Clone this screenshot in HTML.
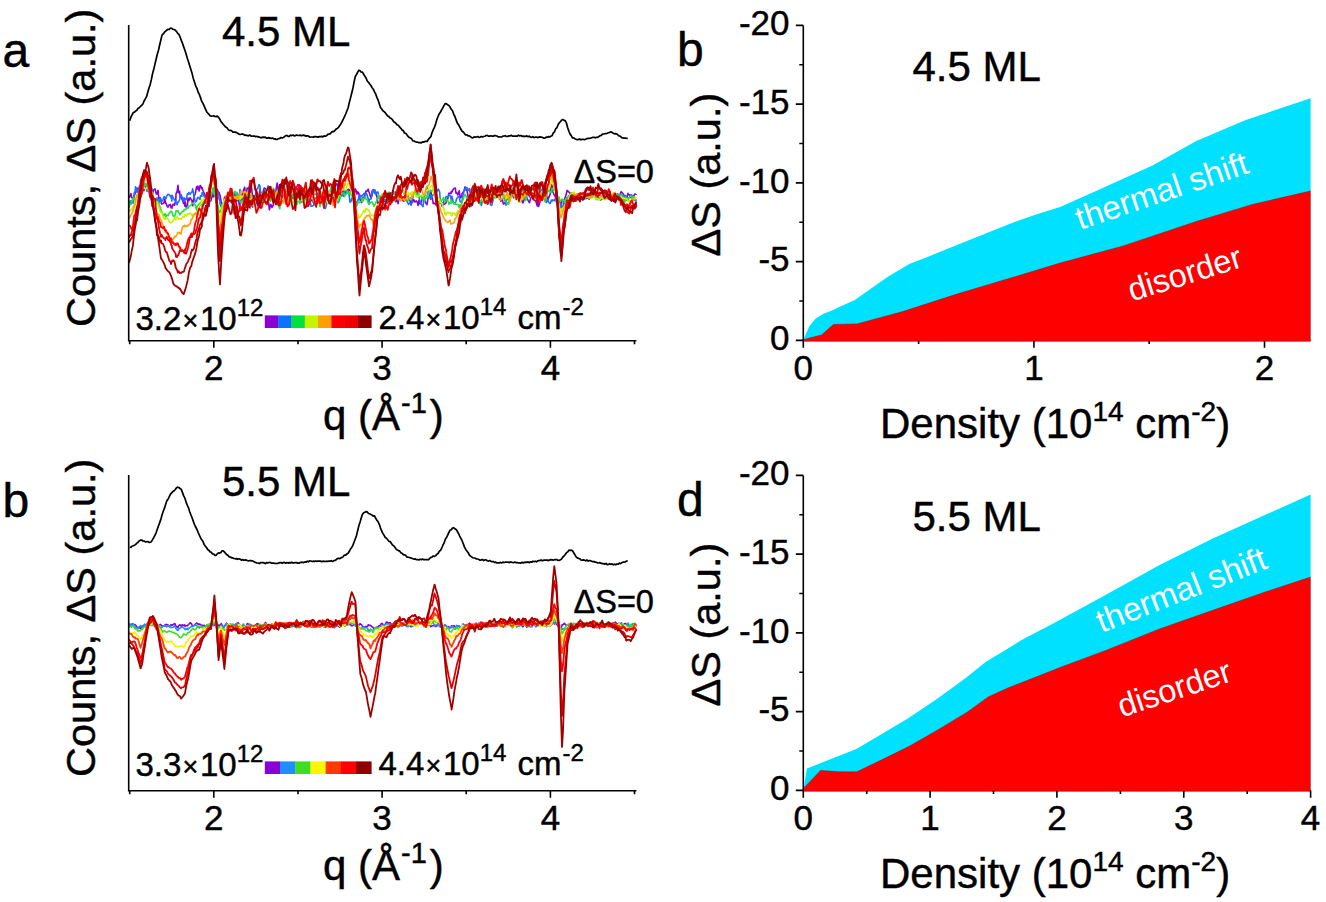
<!DOCTYPE html>
<html><head><meta charset="utf-8"><style>
html,body{margin:0;padding:0;background:#fff;}
svg{display:block;}
text{font-family:"Liberation Sans", sans-serif;fill:#000;stroke:#000;stroke-width:0.45px;}
</style></head><body>
<svg width="1326" height="902" viewBox="0 0 1326 902">
<rect width="1326" height="902" fill="#fff"/>
<path d="M129.0,197.8L130.3,195.5L131.0,193.6L131.6,197.5L132.9,198.1L133.0,199.1L134.2,195.6L135.0,193.6L135.5,192.8L136.8,188.0L137.0,191.4L138.1,188.2L139.4,193.6L140.0,191.6L140.7,193.0L141.0,194.0L142.0,192.1L143.3,188.6L144.0,190.7L144.6,185.9L145.9,187.7L147.0,185.1L147.2,187.3L148.5,187.7L149.8,196.5L150.0,196.8L151.1,199.0L152.0,197.2L152.4,194.6L153.0,192.0L153.7,190.0L155.0,188.9L156.3,194.0L157.0,194.0L157.6,191.6L158.0,190.3L158.9,198.7L160.2,197.5L161.0,201.3L161.5,204.0L162.8,203.8L164.1,202.4L165.0,198.7L165.4,203.1L166.0,203.1L166.7,205.3L168.0,207.2L169.3,204.7L170.6,204.6L171.0,207.7L171.9,208.1L172.0,207.1L173.2,204.0L174.5,205.3L175.8,200.3L176.0,193.8L177.1,191.4L178.0,185.2L178.4,192.6L179.7,191.2L180.0,197.0L181.0,197.1L182.3,199.8L183.6,203.6L184.0,197.8L184.9,206.2L185.0,201.5L186.2,207.4L187.5,204.6L188.0,198.1L188.8,200.8L190.1,197.7L191.4,199.8L192.0,200.7L192.7,205.8L194.0,196.9L195.3,193.5L196.6,186.9L197.0,189.2L197.9,186.1L199.2,191.0L200.0,185.8L200.5,185.6L201.8,188.7L202.0,187.5L203.1,191.0L204.4,193.6L205.7,196.8L206.0,197.2L207.0,200.5L208.0,202.9L208.3,205.4L209.0,206.4L209.6,200.7L210.9,200.9L211.5,198.0L212.2,194.1L213.0,197.0L213.5,196.8L214.0,196.1L214.8,189.0L216.0,187.4L216.1,189.0L217.4,189.4L218.0,191.6L218.7,192.4L219.0,192.3L220.0,195.4L220.0,195.5L221.3,202.5L222.0,205.1L222.6,205.4L223.9,203.1L224.5,197.4L225.2,196.8L226.0,196.0L226.5,196.6L227.8,203.0L228.0,197.5L229.1,199.3L230.4,201.5L231.7,202.6L233.0,201.6L233.0,196.7L234.3,193.2L235.6,196.9L236.9,200.9L237.0,198.5L238.2,197.8L239.5,206.1L240.0,204.5L240.8,199.4L241.0,202.5L242.1,199.5L243.4,190.2L244.7,187.2L245.0,190.6L246.0,192.6L247.3,188.0L248.6,189.2L249.9,183.4L250.0,186.8L251.2,184.7L252.5,196.3L253.8,197.0L255.1,198.2L256.4,201.8L257.7,205.8L259.0,199.1L260.0,188.8L260.3,194.3L261.6,193.3L262.9,192.7L264.2,188.0L265.5,188.7L266.8,196.6L268.1,198.5L269.4,209.8L270.7,204.3L272.0,207.4L273.3,205.0L274.6,196.5L275.9,190.4L277.2,183.0L278.5,192.2L279.8,186.1L280.0,190.3L281.1,191.6L282.4,197.3L283.7,193.1L285.0,193.8L286.3,198.2L287.6,189.8L288.9,194.5L290.2,196.4L291.5,194.1L292.8,198.5L294.1,192.8L295.4,187.3L296.7,187.2L298.0,184.5L299.3,185.6L300.0,188.1L300.6,190.3L301.9,193.0L303.2,195.1L304.5,195.5L305.8,198.8L307.1,206.5L308.4,205.2L309.7,202.4L311.0,200.7L312.3,199.6L313.6,203.0L314.9,204.4L316.2,197.7L317.5,203.6L318.8,199.0L320.0,189.8L320.1,190.9L321.4,197.4L322.7,194.8L324.0,200.3L325.3,196.0L326.6,185.2L327.9,192.4L329.2,198.6L330.5,198.8L331.8,201.4L333.1,190.0L334.4,186.7L335.0,186.6L335.7,184.8L337.0,183.7L338.3,190.7L339.6,192.9L340.0,194.8L340.9,188.8L342.2,194.6L343.5,190.2L344.0,196.0L344.8,194.3L345.0,193.2L346.1,192.2L347.4,192.4L348.0,189.4L348.7,189.2L350.0,190.6L351.0,191.5L351.3,193.0L352.6,194.0L353.9,192.7L354.0,194.3L355.0,191.5L355.2,188.9L356.5,191.3L357.0,194.1L357.8,191.9L359.0,193.8L359.1,195.8L359.5,198.1L360.4,200.3L361.7,202.6L362.0,198.4L363.0,197.8L364.0,198.4L364.3,196.2L365.6,192.2L366.0,191.1L366.9,191.4L368.2,189.1L369.0,192.0L369.5,193.2L370.8,197.6L372.0,195.5L372.1,191.2L373.4,189.6L374.0,191.7L374.7,190.3L375.0,190.6L376.0,193.9L377.3,198.2L378.0,205.6L378.6,202.6L379.9,202.2L381.2,196.1L382.0,196.9L382.5,201.4L383.0,200.2L383.8,201.5L385.1,201.2L386.4,200.7L387.7,202.9L389.0,197.7L390.0,197.9L390.3,197.9L391.6,197.0L392.9,196.6L394.2,200.6L395.5,199.0L396.0,201.8L396.8,197.2L398.1,203.7L399.4,196.0L400.0,199.2L400.7,195.2L402.0,197.4L403.3,201.3L404.6,200.9L405.0,198.7L405.9,200.0L407.2,194.9L408.5,197.6L409.8,200.2L411.1,205.1L412.0,200.0L412.4,202.6L413.7,199.7L415.0,202.0L416.3,200.9L417.6,202.8L418.0,205.5L418.9,200.4L420.2,204.1L421.5,201.4L422.8,195.6L423.0,196.3L424.1,198.2L425.0,197.8L425.4,202.4L426.7,204.3L427.0,204.6L428.0,198.7L428.0,198.7L429.3,196.0L430.5,190.5L430.6,190.3L431.0,192.3L431.9,196.9L433.0,201.6L433.2,203.6L434.5,203.2L435.0,203.8L435.8,204.9L436.0,203.0L437.1,201.8L438.4,201.8L439.7,203.0L440.0,201.7L441.0,202.5L442.3,206.4L443.6,203.5L444.0,204.6L444.9,203.9L446.0,203.0L446.2,199.5L447.5,199.9L448.5,195.2L448.8,193.2L450.1,193.3L451.0,193.5L451.4,191.3L452.0,192.0L452.7,190.2L454.0,188.4L455.3,188.0L456.0,193.2L456.6,192.6L457.9,195.0L459.2,190.8L460.0,196.1L460.5,197.8L461.8,196.3L462.0,193.8L463.1,192.3L464.4,190.2L465.0,186.9L465.7,189.5L467.0,190.2L468.3,198.5L469.6,204.2L470.0,201.0L470.9,206.3L472.0,197.2L472.2,197.4L473.5,185.8L474.8,188.7L476.0,193.9L476.1,192.6L477.4,193.7L478.7,194.4L480.0,189.4L480.0,192.8L481.3,187.4L482.6,192.7L483.9,201.0L485.2,202.7L486.5,197.0L487.8,199.2L489.1,190.9L490.4,190.8L491.7,191.1L493.0,192.5L494.3,194.1L495.6,189.6L496.9,189.2L498.2,194.8L499.5,199.3L500.0,195.8L500.8,201.2L502.1,199.0L503.4,204.0L504.7,203.4L506.0,200.6L507.3,199.2L508.6,196.5L509.9,192.9L510.0,192.3L511.2,192.2L512.5,195.1L513.8,197.8L515.1,195.4L516.4,194.6L517.7,196.0L519.0,196.9L520.0,197.6L520.3,201.7L521.6,199.7L522.9,202.9L524.2,199.4L525.5,194.9L526.8,197.8L528.1,200.4L529.4,202.7L530.7,198.5L532.0,195.7L533.3,199.3L534.6,200.3L535.9,201.4L537.2,205.9L538.0,201.2L538.5,206.5L539.8,202.5L541.1,195.2L542.4,192.9L543.7,191.5L545.0,190.7L545.0,191.7L546.3,193.6L547.6,201.2L548.9,196.4L549.0,197.3L550.2,194.0L551.5,184.6L552.0,185.5L552.8,191.7L554.1,194.7L555.0,196.3L555.4,195.9L556.0,200.0L556.7,202.6L557.5,201.3L558.0,203.9L559.0,206.1L559.3,200.9L559.5,201.2L560.6,201.3L561.0,206.1L561.4,203.5L561.9,200.4L563.2,200.3L563.5,200.2L564.0,203.2L564.5,199.3L565.8,195.7L566.5,192.9L567.1,190.4L568.0,191.5L568.4,191.4L569.7,193.0L571.0,196.3L572.0,196.6L572.3,196.4L573.6,199.4L574.9,199.0L575.0,198.0L576.2,199.3L577.5,198.7L578.8,198.6L580.0,199.0L580.1,198.2L581.4,199.3L582.7,196.8L584.0,195.0L585.3,195.5L586.6,196.0L587.9,198.1L589.2,199.2L590.5,196.8L591.8,192.4L593.1,192.6L594.4,194.6L595.7,198.6L597.0,197.8L598.0,199.2L598.3,198.7L599.6,199.4L600.9,199.9L602.2,197.1L603.5,197.6L604.8,196.6L606.1,198.1L607.4,195.4L608.7,195.9L610.0,196.2L610.0,194.6L611.3,197.3L612.6,195.5L613.9,197.1L615.0,196.6L615.2,196.9L616.5,198.3L617.8,196.6L619.1,197.0L620.4,193.4L621.0,191.8L621.7,192.2L623.0,193.6L624.3,197.9L625.6,199.5L626.9,197.2L628.0,193.3L628.2,194.7L629.5,194.8L630.8,197.5L632.0,198.0L632.1,198.4L633.4,196.6L634.7,194.0L636.0,194.3L636.0,194.0" fill="none" stroke="#8B00D4" stroke-width="1.6" stroke-linejoin="round"/>
<path d="M129.0,207.5L130.3,200.9L131.0,203.3L131.6,200.9L132.9,200.9L133.0,203.5L134.2,192.9L135.0,192.2L135.5,186.8L136.8,190.0L137.0,192.3L138.1,191.5L139.4,186.1L140.0,186.0L140.7,187.4L141.0,186.1L142.0,187.7L143.3,183.8L144.0,188.3L144.6,183.9L145.9,184.2L147.0,191.5L147.2,187.4L148.5,189.4L149.8,189.0L150.0,187.6L151.1,192.4L152.0,188.5L152.4,191.8L153.0,198.4L153.7,200.2L155.0,201.2L156.3,201.4L157.0,197.7L157.6,201.1L158.0,199.7L158.9,203.0L160.2,197.9L161.0,199.1L161.5,201.6L162.8,200.2L164.1,196.4L165.0,197.9L165.4,198.7L166.0,198.5L166.7,195.9L168.0,194.2L169.3,194.8L170.6,196.8L171.0,195.8L171.9,201.0L172.0,195.2L173.2,197.5L174.5,200.2L175.8,200.3L176.0,202.3L177.1,204.7L178.0,201.7L178.4,202.2L179.7,199.5L180.0,196.1L181.0,194.4L182.3,197.6L183.6,200.6L184.0,201.6L184.9,201.3L185.0,198.9L186.2,199.6L187.5,193.7L188.0,194.6L188.8,192.5L190.1,194.3L191.4,192.2L192.0,192.1L192.7,188.8L194.0,195.8L195.3,202.1L196.6,200.9L197.0,198.8L197.9,197.3L199.2,198.4L200.0,199.5L200.5,195.7L201.8,196.4L202.0,192.8L203.1,193.0L204.4,197.2L205.7,203.0L206.0,201.7L207.0,198.0L208.0,200.0L208.3,202.7L209.0,200.6L209.6,200.4L210.9,193.1L211.5,193.8L212.2,193.9L213.0,192.2L213.5,188.9L214.0,190.4L214.8,186.1L216.0,184.0L216.1,189.4L217.4,194.6L218.0,193.0L218.7,194.7L219.0,198.6L220.0,200.8L220.0,203.8L221.3,207.0L222.0,205.3L222.6,203.0L223.9,206.5L224.5,201.8L225.2,201.8L226.0,204.8L226.5,200.9L227.8,196.2L228.0,194.1L229.1,197.3L230.4,197.4L231.7,197.6L233.0,196.3L233.0,195.1L234.3,193.6L235.6,194.6L236.9,198.1L237.0,192.7L238.2,197.3L239.5,193.7L240.0,189.5L240.8,194.3L241.0,194.6L242.1,196.7L243.4,198.0L244.7,198.9L245.0,197.2L246.0,199.0L247.3,193.9L248.6,189.7L249.9,196.8L250.0,195.6L251.2,204.8L252.5,207.2L253.8,206.2L255.1,196.8L256.4,189.2L257.7,188.8L259.0,184.6L260.0,185.9L260.3,190.9L261.6,193.9L262.9,200.3L264.2,191.5L265.5,189.7L266.8,190.7L268.1,185.7L269.4,189.1L270.7,193.3L272.0,194.9L273.3,200.2L274.6,200.7L275.9,195.7L277.2,193.4L278.5,194.7L279.8,184.7L280.0,190.0L281.1,187.5L282.4,190.4L283.7,194.0L285.0,199.6L286.3,195.3L287.6,195.3L288.9,194.3L290.2,198.8L291.5,193.8L292.8,198.2L294.1,197.4L295.4,194.9L296.7,193.3L298.0,188.9L299.3,187.6L300.0,191.1L300.6,196.8L301.9,202.3L303.2,198.0L304.5,196.8L305.8,198.4L307.1,198.4L308.4,202.0L309.7,198.3L311.0,206.3L312.3,206.2L313.6,205.3L314.9,203.6L316.2,202.8L317.5,193.8L318.8,192.3L320.0,199.0L320.1,198.7L321.4,197.2L322.7,202.1L324.0,208.3L325.3,208.5L326.6,204.4L327.9,196.8L329.2,196.6L330.5,192.2L331.8,192.6L333.1,193.7L334.4,202.4L335.0,200.2L335.7,195.9L337.0,199.6L338.3,202.7L339.6,199.4L340.0,196.1L340.9,196.3L342.2,194.1L343.5,196.3L344.0,191.4L344.8,193.2L345.0,189.8L346.1,190.7L347.4,190.3L348.0,193.4L348.7,191.9L350.0,202.2L351.0,201.6L351.3,199.8L352.6,197.0L353.9,197.2L354.0,195.6L355.0,199.9L355.2,201.1L356.5,206.0L357.0,202.0L357.8,200.5L359.0,196.8L359.1,198.7L359.5,199.8L360.4,195.4L361.7,196.7L362.0,195.9L363.0,194.7L364.0,193.6L364.3,193.3L365.6,194.8L366.0,193.3L366.9,194.3L368.2,198.8L369.0,204.5L369.5,199.2L370.8,199.3L372.0,195.5L372.1,191.5L373.4,190.6L374.0,192.7L374.7,193.3L375.0,190.1L376.0,193.7L377.3,192.0L378.0,192.1L378.6,196.6L379.9,197.7L381.2,202.0L382.0,199.6L382.5,200.3L383.0,201.8L383.8,199.7L385.1,199.4L386.4,201.5L387.7,203.7L389.0,198.7L390.0,197.0L390.3,193.4L391.6,193.8L392.9,191.0L394.2,194.0L395.5,191.9L396.0,192.1L396.8,194.5L398.1,191.2L399.4,195.2L400.0,194.6L400.7,190.9L402.0,191.8L403.3,191.7L404.6,193.1L405.0,199.0L405.9,199.2L407.2,201.7L408.5,204.5L409.8,203.0L411.1,204.1L412.0,202.0L412.4,199.4L413.7,193.6L415.0,192.8L416.3,192.5L417.6,191.5L418.0,194.5L418.9,197.0L420.2,201.6L421.5,204.8L422.8,206.3L423.0,206.7L424.1,197.9L425.0,194.3L425.4,194.9L426.7,186.8L427.0,186.3L428.0,191.6L428.0,196.5L429.3,196.5L430.5,199.2L430.6,194.9L431.0,199.2L431.9,195.7L433.0,195.2L433.2,194.6L434.5,193.6L435.0,193.6L435.8,194.6L436.0,190.8L437.1,191.2L438.4,189.0L439.7,192.3L440.0,197.3L441.0,201.8L442.3,203.0L443.6,203.7L444.0,200.2L444.9,200.5L446.0,196.5L446.2,197.1L447.5,196.7L448.5,196.0L448.8,194.9L450.1,195.3L451.0,198.4L451.4,200.9L452.0,196.3L452.7,200.1L454.0,203.7L455.3,203.0L456.0,201.3L456.6,198.7L457.9,197.1L459.2,196.6L460.0,201.1L460.5,201.9L461.8,202.6L462.0,200.6L463.1,195.3L464.4,189.2L465.0,190.0L465.7,187.9L467.0,187.6L468.3,190.4L469.6,188.6L470.0,192.8L470.9,196.1L472.0,196.3L472.2,192.7L473.5,191.0L474.8,188.6L476.0,190.4L476.1,192.5L477.4,196.5L478.7,200.6L480.0,200.3L480.0,200.3L481.3,205.5L482.6,199.9L483.9,202.3L485.2,196.2L486.5,192.9L487.8,198.4L489.1,195.9L490.4,204.7L491.7,205.4L493.0,200.4L494.3,196.2L495.6,197.7L496.9,189.5L498.2,191.5L499.5,187.7L500.0,188.0L500.8,193.2L502.1,191.4L503.4,191.1L504.7,197.5L506.0,205.1L507.3,202.9L508.6,203.3L509.9,197.0L510.0,199.8L511.2,191.6L512.5,190.8L513.8,192.4L515.1,194.1L516.4,198.8L517.7,196.9L519.0,190.4L520.0,190.1L520.3,192.6L521.6,197.9L522.9,196.5L524.2,195.8L525.5,195.2L526.8,194.9L528.1,192.0L529.4,197.0L530.7,190.1L532.0,195.2L533.3,194.6L534.6,196.8L535.9,193.5L537.2,196.1L538.0,198.0L538.5,197.2L539.8,192.5L541.1,190.3L542.4,189.1L543.7,189.8L545.0,200.6L545.0,196.2L546.3,202.7L547.6,199.7L548.9,202.5L549.0,202.7L550.2,203.5L551.5,200.0L552.0,201.2L552.8,199.8L554.1,200.7L555.0,199.5L555.4,198.0L556.0,199.6L556.7,201.2L557.5,204.6L558.0,205.2L559.0,204.7L559.3,206.0L559.5,202.5L560.6,207.5L561.0,203.8L561.4,208.2L561.9,206.7L563.2,206.1L563.5,202.9L564.0,203.9L564.5,202.1L565.8,200.8L566.5,197.7L567.1,200.7L568.0,198.1L568.4,195.8L569.7,196.7L571.0,196.5L572.0,197.4L572.3,196.1L573.6,194.2L574.9,195.2L575.0,196.2L576.2,197.5L577.5,196.2L578.8,199.6L580.0,200.6L580.1,201.1L581.4,198.2L582.7,196.4L584.0,196.1L585.3,198.6L586.6,198.4L587.9,196.3L589.2,195.1L590.5,193.0L591.8,191.5L593.1,191.7L594.4,193.2L595.7,194.2L597.0,199.6L598.0,198.4L598.3,197.4L599.6,198.8L600.9,198.9L602.2,199.0L603.5,197.6L604.8,193.8L606.1,192.7L607.4,194.8L608.7,197.8L610.0,199.2L610.0,199.4L611.3,200.0L612.6,197.9L613.9,196.2L615.0,193.8L615.2,194.9L616.5,195.5L617.8,193.8L619.1,196.1L620.4,198.9L621.0,199.7L621.7,199.5L623.0,196.8L624.3,195.1L625.6,195.8L626.9,197.9L628.0,200.4L628.2,198.8L629.5,197.3L630.8,194.5L632.0,196.1L632.1,195.3L633.4,199.1L634.7,200.5L636.0,199.7L636.0,201.6" fill="none" stroke="#1F6FFF" stroke-width="1.6" stroke-linejoin="round"/>
<path d="M129.0,206.0L130.3,204.1L131.0,204.3L131.6,200.4L132.9,200.6L133.0,198.1L134.2,198.7L135.0,199.9L135.5,201.3L136.8,196.1L137.0,199.4L138.1,195.6L139.4,193.2L140.0,196.2L140.7,193.5L141.0,196.5L142.0,190.0L143.3,187.7L144.0,186.6L144.6,185.4L145.9,183.3L147.0,185.8L147.2,184.9L148.5,188.1L149.8,191.2L150.0,191.1L151.1,194.6L152.0,197.6L152.4,197.3L153.0,197.3L153.7,200.2L155.0,201.3L156.3,201.9L157.0,203.8L157.6,202.5L158.0,201.3L158.9,204.6L160.2,207.4L161.0,210.0L161.5,211.2L162.8,214.2L164.1,215.2L165.0,213.6L165.4,216.7L166.0,217.4L166.7,215.1L168.0,215.7L169.3,213.0L170.6,211.6L171.0,211.2L171.9,211.8L172.0,212.5L173.2,215.6L174.5,216.8L175.8,212.5L176.0,210.8L177.1,211.1L178.0,210.6L178.4,212.4L179.7,213.5L180.0,214.9L181.0,212.9L182.3,211.4L183.6,211.4L184.0,210.0L184.9,209.3L185.0,210.0L186.2,208.9L187.5,207.0L188.0,208.2L188.8,206.1L190.1,206.0L191.4,204.9L192.0,203.8L192.7,203.0L194.0,203.4L195.3,205.3L196.6,210.3L197.0,206.8L197.9,205.4L199.2,203.9L200.0,203.5L200.5,202.4L201.8,206.6L202.0,204.9L203.1,203.0L204.4,201.0L205.7,200.9L206.0,200.5L207.0,202.0L208.0,202.8L208.3,204.5L209.0,199.1L209.6,200.5L210.9,195.9L211.5,194.1L212.2,191.2L213.0,187.9L213.5,190.6L214.0,190.7L214.8,194.9L216.0,199.5L216.1,202.4L217.4,204.0L218.0,205.6L218.7,208.9L219.0,212.7L220.0,212.1L220.0,211.9L221.3,209.6L222.0,204.6L222.6,206.2L223.9,205.9L224.5,205.0L225.2,206.7L226.0,200.4L226.5,200.0L227.8,192.4L228.0,193.7L229.1,195.4L230.4,199.3L231.7,197.4L233.0,195.4L233.0,194.4L234.3,191.9L235.6,191.6L236.9,194.7L237.0,194.5L238.2,197.7L239.5,197.4L240.0,201.8L240.8,202.7L241.0,202.8L242.1,200.5L243.4,201.7L244.7,202.5L245.0,199.4L246.0,194.7L247.3,195.6L248.6,197.9L249.9,199.3L250.0,195.1L251.2,201.5L252.5,200.9L253.8,197.4L255.1,197.3L256.4,196.7L257.7,195.3L259.0,203.0L260.0,203.1L260.3,204.1L261.6,199.3L262.9,193.6L264.2,192.3L265.5,191.2L266.8,189.7L268.1,189.6L269.4,199.5L270.7,201.1L272.0,195.7L273.3,188.0L274.6,190.9L275.9,200.8L277.2,202.4L278.5,205.3L279.8,208.6L280.0,202.9L281.1,200.5L282.4,189.3L283.7,190.4L285.0,188.8L286.3,194.5L287.6,193.8L288.9,198.5L290.2,195.1L291.5,195.0L292.8,196.0L294.1,198.6L295.4,203.6L296.7,204.7L298.0,201.2L299.3,201.4L300.0,203.4L300.6,199.7L301.9,199.0L303.2,198.5L304.5,200.1L305.8,194.9L307.1,192.6L308.4,191.6L309.7,192.4L311.0,188.0L312.3,193.5L313.6,193.0L314.9,194.2L316.2,194.3L317.5,197.8L318.8,198.4L320.0,206.7L320.1,205.2L321.4,202.4L322.7,202.3L324.0,203.6L325.3,201.6L326.6,198.8L327.9,198.6L329.2,195.8L330.5,189.1L331.8,185.7L333.1,184.6L334.4,188.1L335.0,187.6L335.7,191.7L337.0,194.7L338.3,201.7L339.6,195.5L340.0,198.3L340.9,193.8L342.2,192.9L343.5,193.9L344.0,193.2L344.8,196.6L345.0,194.8L346.1,194.3L347.4,191.6L348.0,192.3L348.7,193.1L350.0,192.4L351.0,193.2L351.3,195.9L352.6,194.1L353.9,197.3L354.0,196.3L355.0,201.3L355.2,203.0L356.5,203.8L357.0,205.0L357.8,202.2L359.0,202.7L359.1,202.5L359.5,202.2L360.4,201.8L361.7,201.3L362.0,198.3L363.0,201.0L364.0,198.4L364.3,197.6L365.6,196.8L366.0,199.1L366.9,199.3L368.2,203.1L369.0,203.1L369.5,203.6L370.8,202.4L372.0,201.9L372.1,202.3L373.4,204.7L374.0,206.2L374.7,205.2L375.0,204.3L376.0,202.7L377.3,198.1L378.0,198.8L378.6,194.9L379.9,197.5L381.2,197.5L382.0,194.3L382.5,194.5L383.0,195.9L383.8,196.8L385.1,197.4L386.4,195.1L387.7,194.9L389.0,192.1L390.0,194.6L390.3,194.5L391.6,195.9L392.9,193.8L394.2,192.0L395.5,194.2L396.0,195.9L396.8,194.2L398.1,199.8L399.4,197.2L400.0,194.5L400.7,193.6L402.0,191.3L403.3,190.1L404.6,195.2L405.0,197.3L405.9,196.4L407.2,200.5L408.5,200.6L409.8,197.7L411.1,198.6L412.0,194.9L412.4,194.0L413.7,193.6L415.0,192.6L416.3,192.4L417.6,196.7L418.0,197.0L418.9,193.7L420.2,196.4L421.5,196.8L422.8,200.1L423.0,195.9L424.1,196.8L425.0,200.9L425.4,198.9L426.7,197.2L427.0,195.4L428.0,197.1L428.0,196.6L429.3,192.3L430.5,191.0L430.6,190.4L431.0,191.5L431.9,190.6L433.0,190.7L433.2,189.2L434.5,191.6L435.0,193.9L435.8,199.5L436.0,198.9L437.1,202.7L438.4,203.7L439.7,203.4L440.0,201.5L441.0,200.9L442.3,199.9L443.6,197.6L444.0,199.5L444.9,201.4L446.0,200.3L446.2,199.3L447.5,200.0L448.5,202.7L448.8,204.4L450.1,202.2L451.0,203.5L451.4,200.4L452.0,202.1L452.7,202.3L454.0,204.0L455.3,203.5L456.0,204.6L456.6,204.5L457.9,204.2L459.2,207.7L460.0,204.8L460.5,207.6L461.8,203.3L462.0,202.0L463.1,199.5L464.4,194.7L465.0,194.6L465.7,195.3L467.0,199.6L468.3,201.4L469.6,201.1L470.0,199.4L470.9,200.9L472.0,204.5L472.2,204.9L473.5,198.6L474.8,195.4L476.0,199.0L476.1,195.4L477.4,195.4L478.7,202.0L480.0,203.9L480.0,200.6L481.3,201.1L482.6,197.2L483.9,188.3L485.2,198.0L486.5,203.6L487.8,200.5L489.1,197.5L490.4,193.0L491.7,195.1L493.0,198.5L494.3,196.4L495.6,194.3L496.9,193.1L498.2,193.5L499.5,186.4L500.0,186.7L500.8,191.4L502.1,194.1L503.4,197.9L504.7,200.1L506.0,201.2L507.3,204.1L508.6,203.9L509.9,195.8L510.0,195.8L511.2,193.3L512.5,187.6L513.8,196.2L515.1,196.9L516.4,198.5L517.7,196.4L519.0,194.2L520.0,192.7L520.3,191.1L521.6,193.3L522.9,188.6L524.2,193.8L525.5,200.7L526.8,198.1L528.1,190.0L529.4,188.6L530.7,188.3L532.0,187.9L533.3,189.5L534.6,192.0L535.9,195.6L537.2,192.4L538.0,187.3L538.5,190.7L539.8,193.0L541.1,200.1L542.4,199.1L543.7,197.6L545.0,201.4L545.0,201.7L546.3,197.3L547.6,191.6L548.9,189.9L549.0,190.9L550.2,191.9L551.5,192.3L552.0,188.5L552.8,188.7L554.1,190.2L555.0,188.3L555.4,189.4L556.0,191.1L556.7,194.1L557.5,196.9L558.0,197.0L559.0,198.0L559.3,197.3L559.5,200.6L560.6,201.5L561.0,200.4L561.4,199.8L561.9,199.1L563.2,200.8L563.5,200.7L564.0,200.1L564.5,202.1L565.8,198.9L566.5,201.0L567.1,197.7L568.0,199.4L568.4,199.0L569.7,194.7L571.0,192.5L572.0,193.6L572.3,196.4L573.6,199.8L574.9,198.8L575.0,198.7L576.2,195.4L577.5,194.1L578.8,194.5L580.0,197.3L580.1,196.4L581.4,198.1L582.7,199.0L584.0,196.3L585.3,195.3L586.6,194.2L587.9,196.9L589.2,197.6L590.5,195.9L591.8,197.6L593.1,196.5L594.4,194.9L595.7,195.0L597.0,198.0L598.0,196.8L598.3,198.0L599.6,199.2L600.9,198.4L602.2,196.4L603.5,197.1L604.8,197.2L606.1,195.9L607.4,195.7L608.7,194.1L610.0,195.3L610.0,193.9L611.3,197.1L612.6,195.2L613.9,195.0L615.0,193.7L615.2,194.4L616.5,194.0L617.8,196.3L619.1,195.0L620.4,195.0L621.0,196.0L621.7,194.4L623.0,197.0L624.3,202.7L625.6,199.9L626.9,200.2L628.0,199.6L628.2,199.4L629.5,197.6L630.8,196.0L632.0,197.1L632.1,197.8L633.4,196.6L634.7,197.2L636.0,197.5L636.0,197.9" fill="none" stroke="#20E040" stroke-width="1.6" stroke-linejoin="round"/>
<path d="M129.0,212.0L130.3,209.9L131.0,210.8L131.6,209.3L132.9,208.0L133.0,206.4L134.2,206.7L135.0,205.5L135.5,204.4L136.8,198.1L137.0,200.4L138.1,199.0L139.4,198.9L140.0,196.1L140.7,192.4L141.0,189.6L142.0,185.3L143.3,186.8L144.0,187.5L144.6,188.3L145.9,188.8L147.0,187.3L147.2,186.5L148.5,189.5L149.8,190.3L150.0,190.0L151.1,191.4L152.0,193.9L152.4,192.2L153.0,195.9L153.7,198.0L155.0,199.0L156.3,202.7L157.0,202.2L157.6,203.5L158.0,204.5L158.9,207.5L160.2,211.5L161.0,212.6L161.5,212.4L162.8,215.7L164.1,218.9L165.0,217.7L165.4,219.4L166.0,218.0L166.7,217.5L168.0,219.0L169.3,222.0L170.6,223.0L171.0,222.5L171.9,222.5L172.0,222.0L173.2,220.6L174.5,218.1L175.8,219.8L176.0,217.7L177.1,217.0L178.0,217.6L178.4,218.9L179.7,218.6L180.0,219.0L181.0,219.3L182.3,217.4L183.6,216.3L184.0,217.4L184.9,215.7L185.0,214.5L186.2,215.8L187.5,213.9L188.0,213.8L188.8,214.3L190.1,212.9L191.4,214.2L192.0,216.0L192.7,214.4L194.0,214.5L195.3,213.9L196.6,213.0L197.0,211.5L197.9,209.3L199.2,209.4L200.0,206.0L200.5,204.9L201.8,199.9L202.0,200.7L203.1,200.2L204.4,198.2L205.7,199.8L206.0,197.7L207.0,200.2L208.0,196.8L208.3,198.9L209.0,196.0L209.6,196.9L210.9,187.2L211.5,185.3L212.2,183.3L213.0,180.0L213.5,182.5L214.0,183.6L214.8,185.6L216.0,191.5L216.1,191.0L217.4,206.6L218.0,213.4L218.7,220.4L219.0,222.2L220.0,217.3L220.0,216.3L221.3,213.3L222.0,209.7L222.6,206.3L223.9,201.2L224.5,199.8L225.2,199.0L226.0,197.7L226.5,194.0L227.8,193.3L228.0,193.0L229.1,193.5L230.4,198.2L231.7,200.3L233.0,200.2L233.0,199.1L234.3,198.4L235.6,197.6L236.9,198.1L237.0,196.7L238.2,196.4L239.5,198.3L240.0,194.8L240.8,199.0L241.0,196.0L242.1,197.3L243.4,195.2L244.7,196.4L245.0,194.1L246.0,200.2L247.3,202.2L248.6,201.4L249.9,202.5L250.0,199.2L251.2,200.3L252.5,202.4L253.8,206.3L255.1,201.2L256.4,197.9L257.7,197.8L259.0,197.5L260.0,194.9L260.3,199.2L261.6,197.8L262.9,197.6L264.2,202.2L265.5,202.9L266.8,204.8L268.1,193.4L269.4,189.1L270.7,194.6L272.0,198.0L273.3,200.5L274.6,199.3L275.9,193.9L277.2,192.6L278.5,192.3L279.8,192.7L280.0,195.4L281.1,195.0L282.4,193.6L283.7,190.1L285.0,196.9L286.3,194.7L287.6,198.6L288.9,204.7L290.2,200.2L291.5,198.8L292.8,202.7L294.1,201.9L295.4,204.0L296.7,200.0L298.0,193.3L299.3,197.7L300.0,195.0L300.6,198.8L301.9,200.8L303.2,200.2L304.5,203.5L305.8,201.4L307.1,198.4L308.4,195.0L309.7,193.2L311.0,196.7L312.3,197.0L313.6,200.9L314.9,202.8L316.2,204.4L317.5,198.8L318.8,199.0L320.0,198.2L320.1,198.3L321.4,193.5L322.7,190.9L324.0,188.4L325.3,193.9L326.6,200.0L327.9,203.5L329.2,196.7L330.5,192.7L331.8,193.0L333.1,192.0L334.4,197.0L335.0,199.0L335.7,198.9L337.0,200.3L338.3,196.2L339.6,194.2L340.0,191.8L340.9,191.5L342.2,189.8L343.5,189.8L344.0,189.2L344.8,189.9L345.0,189.6L346.1,190.0L347.4,183.5L348.0,183.5L348.7,183.4L350.0,187.3L351.0,188.0L351.3,191.6L352.6,195.4L353.9,201.6L354.0,201.7L355.0,206.6L355.2,209.1L356.5,210.6L357.0,212.8L357.8,214.0L359.0,217.2L359.1,218.0L359.5,217.2L360.4,217.0L361.7,214.0L362.0,214.1L363.0,212.6L364.0,210.2L364.3,212.5L365.6,210.9L366.0,208.4L366.9,208.9L368.2,209.7L369.0,210.4L369.5,212.1L370.8,214.4L372.0,215.4L372.1,215.4L373.4,216.1L374.0,214.9L374.7,213.5L375.0,212.0L376.0,207.3L377.3,205.9L378.0,204.2L378.6,204.0L379.9,203.4L381.2,199.3L382.0,194.8L382.5,194.4L383.0,196.8L383.8,194.6L385.1,195.1L386.4,196.2L387.7,198.6L389.0,203.2L390.0,195.8L390.3,194.9L391.6,194.1L392.9,198.1L394.2,201.0L395.5,196.7L396.0,195.8L396.8,197.9L398.1,194.6L399.4,194.7L400.0,192.6L400.7,193.2L402.0,190.6L403.3,191.8L404.6,192.8L405.0,194.4L405.9,194.4L407.2,195.4L408.5,192.6L409.8,195.5L411.1,192.5L412.0,195.5L412.4,191.7L413.7,192.8L415.0,194.0L416.3,197.0L417.6,197.1L418.0,196.4L418.9,195.3L420.2,195.7L421.5,195.2L422.8,196.0L423.0,195.5L424.1,194.8L425.0,194.4L425.4,191.8L426.7,190.2L427.0,190.8L428.0,189.3L428.0,189.8L429.3,188.2L430.5,186.6L430.6,186.5L431.0,186.3L431.9,185.5L433.0,189.4L433.2,190.4L434.5,195.2L435.0,195.7L435.8,197.9L436.0,200.5L437.1,199.3L438.4,197.9L439.7,199.0L440.0,202.5L441.0,202.2L442.3,204.0L443.6,209.3L444.0,208.9L444.9,214.0L446.0,215.2L446.2,212.9L447.5,212.4L448.5,213.4L448.8,212.4L450.1,212.8L451.0,213.3L451.4,215.8L452.0,215.6L452.7,212.9L454.0,213.2L455.3,215.4L456.0,213.1L456.6,212.9L457.9,210.8L459.2,211.2L460.0,211.1L460.5,209.0L461.8,210.0L462.0,207.7L463.1,207.7L464.4,206.6L465.0,205.5L465.7,203.6L467.0,202.3L468.3,200.1L469.6,196.7L470.0,195.6L470.9,193.5L472.0,191.8L472.2,193.5L473.5,193.0L474.8,193.5L476.0,193.4L476.1,194.6L477.4,198.0L478.7,197.6L480.0,197.9L480.0,196.9L481.3,196.9L482.6,199.4L483.9,202.2L485.2,202.4L486.5,199.4L487.8,193.5L489.1,191.4L490.4,191.8L491.7,191.5L493.0,190.1L494.3,193.7L495.6,197.1L496.9,195.8L498.2,198.2L499.5,191.3L500.0,189.6L500.8,187.2L502.1,191.2L503.4,192.9L504.7,194.0L506.0,198.9L507.3,197.7L508.6,196.7L509.9,192.7L510.0,191.1L511.2,191.3L512.5,193.6L513.8,193.8L515.1,196.8L516.4,199.3L517.7,197.4L519.0,202.2L520.0,200.7L520.3,201.9L521.6,198.6L522.9,192.6L524.2,193.2L525.5,195.8L526.8,193.6L528.1,193.6L529.4,190.7L530.7,194.4L532.0,192.4L533.3,195.1L534.6,197.9L535.9,192.9L537.2,191.0L538.0,190.7L538.5,191.1L539.8,196.5L541.1,197.2L542.4,200.3L543.7,194.8L545.0,190.1L545.0,189.5L546.3,188.8L547.6,189.6L548.9,186.5L549.0,188.8L550.2,185.4L551.5,181.6L552.0,177.9L552.8,181.6L554.1,186.4L555.0,190.3L555.4,190.0L556.0,192.2L556.7,194.7L557.5,197.1L558.0,201.3L559.0,204.0L559.3,206.4L559.5,207.9L560.6,210.3L561.0,212.0L561.4,210.1L561.9,208.7L563.2,209.1L563.5,208.2L564.0,207.0L564.5,208.0L565.8,205.9L566.5,206.0L567.1,203.9L568.0,201.7L568.4,199.2L569.7,195.7L571.0,194.1L572.0,195.2L572.3,193.0L573.6,192.1L574.9,193.1L575.0,194.8L576.2,194.1L577.5,194.5L578.8,194.8L580.0,197.0L580.1,196.3L581.4,196.2L582.7,198.4L584.0,199.2L585.3,196.8L586.6,196.4L587.9,196.8L589.2,195.6L590.5,194.2L591.8,194.2L593.1,194.3L594.4,197.0L595.7,199.4L597.0,198.5L598.0,198.9L598.3,199.8L599.6,199.7L600.9,197.8L602.2,198.0L603.5,199.6L604.8,199.4L606.1,197.6L607.4,198.0L608.7,196.8L610.0,197.6L610.0,196.0L611.3,196.0L612.6,197.3L613.9,196.8L615.0,197.3L615.2,197.7L616.5,199.3L617.8,198.6L619.1,199.9L620.4,198.2L621.0,199.3L621.7,198.1L623.0,198.0L624.3,198.1L625.6,198.9L626.9,198.5L628.0,200.8L628.2,201.3L629.5,200.6L630.8,202.5L632.0,201.2L632.1,201.1L633.4,199.8L634.7,198.1L636.0,197.5L636.0,198.2" fill="none" stroke="#C8F000" stroke-width="1.6" stroke-linejoin="round"/>
<path d="M129.0,218.5L130.3,216.8L131.0,214.9L131.6,213.8L132.9,211.4L133.0,211.1L134.2,205.5L135.0,203.8L135.5,199.2L136.8,195.2L137.0,194.8L138.1,193.9L139.4,191.5L140.0,190.4L140.7,188.4L141.0,189.0L142.0,190.0L143.3,184.3L144.0,182.7L144.6,178.1L145.9,176.3L147.0,177.6L147.2,177.4L148.5,187.7L149.8,188.4L150.0,188.1L151.1,192.5L152.0,197.8L152.4,198.7L153.0,202.5L153.7,204.9L155.0,209.8L156.3,212.2L157.0,213.1L157.6,214.4L158.0,214.5L158.9,214.4L160.2,219.1L161.0,220.0L161.5,221.2L162.8,224.9L164.1,228.0L165.0,231.4L165.4,232.0L166.0,232.2L166.7,233.2L168.0,234.3L169.3,236.8L170.6,238.1L171.0,237.9L171.9,239.0L172.0,239.8L173.2,239.5L174.5,236.4L175.8,236.7L176.0,236.2L177.1,234.4L178.0,232.4L178.4,232.6L179.7,232.9L180.0,232.8L181.0,234.1L182.3,227.5L183.6,225.8L184.0,225.6L184.9,226.6L185.0,225.3L186.2,226.1L187.5,226.2L188.0,225.0L188.8,225.1L190.1,223.7L191.4,219.2L192.0,219.1L192.7,217.6L194.0,214.8L195.3,213.0L196.6,214.1L197.0,214.1L197.9,213.4L199.2,215.7L200.0,216.6L200.5,214.7L201.8,211.7L202.0,210.4L203.1,208.3L204.4,208.6L205.7,208.4L206.0,207.0L207.0,205.4L208.0,201.2L208.3,198.0L209.0,194.2L209.6,191.0L210.9,186.1L211.5,183.4L212.2,179.2L213.0,176.6L213.5,180.2L214.0,182.3L214.8,187.0L216.0,192.2L216.1,196.4L217.4,210.1L218.0,219.2L218.7,225.7L219.0,231.4L220.0,227.9L220.0,227.4L221.3,220.9L222.0,216.1L222.6,213.0L223.9,206.5L224.5,206.5L225.2,201.6L226.0,199.8L226.5,198.1L227.8,199.9L228.0,199.0L229.1,197.9L230.4,201.5L231.7,197.1L233.0,197.9L233.0,196.8L234.3,196.5L235.6,196.8L236.9,199.2L237.0,196.4L238.2,199.5L239.5,194.6L240.0,193.8L240.8,191.3L241.0,191.8L242.1,191.4L243.4,192.2L244.7,193.8L245.0,191.1L246.0,193.6L247.3,192.1L248.6,194.3L249.9,193.4L250.0,192.6L251.2,194.8L252.5,198.7L253.8,201.8L255.1,199.0L256.4,198.9L257.7,197.7L259.0,199.5L260.0,195.3L260.3,194.4L261.6,193.8L262.9,192.7L264.2,193.0L265.5,193.7L266.8,196.5L268.1,193.6L269.4,197.1L270.7,193.4L272.0,194.8L273.3,197.8L274.6,194.1L275.9,193.5L277.2,191.9L278.5,203.2L279.8,203.7L280.0,203.2L281.1,200.7L282.4,200.9L283.7,203.1L285.0,191.9L286.3,192.0L287.6,198.1L288.9,202.5L290.2,196.9L291.5,193.9L292.8,189.0L294.1,194.0L295.4,200.3L296.7,199.3L298.0,195.1L299.3,192.8L300.0,193.4L300.6,198.2L301.9,198.0L303.2,198.7L304.5,190.4L305.8,191.5L307.1,193.4L308.4,193.6L309.7,190.4L311.0,192.2L312.3,196.7L313.6,198.4L314.9,199.6L316.2,200.6L317.5,196.4L318.8,197.7L320.0,196.5L320.1,197.3L321.4,195.0L322.7,193.7L324.0,191.3L325.3,192.5L326.6,199.3L327.9,199.4L329.2,192.7L330.5,196.4L331.8,196.8L333.1,205.4L334.4,204.3L335.0,200.2L335.7,202.8L337.0,197.2L338.3,192.8L339.6,192.5L340.0,191.5L340.9,192.5L342.2,187.4L343.5,188.6L344.0,186.3L344.8,184.0L345.0,185.5L346.1,178.0L347.4,172.7L348.0,171.0L348.7,173.8L350.0,178.2L351.0,180.0L351.3,183.1L352.6,189.9L353.9,198.5L354.0,197.4L355.0,207.9L355.2,208.7L356.5,216.3L357.0,216.8L357.8,220.9L359.0,227.4L359.1,227.6L359.5,226.5L360.4,224.5L361.7,224.8L362.0,224.6L363.0,221.2L364.0,219.4L364.3,218.5L365.6,217.7L366.0,216.5L366.9,215.4L368.2,216.0L369.0,215.1L369.5,215.2L370.8,218.9L372.0,220.3L372.1,219.0L373.4,224.8L374.0,225.4L374.7,224.3L375.0,223.7L376.0,218.6L377.3,212.4L378.0,209.6L378.6,206.3L379.9,202.9L381.2,198.9L382.0,197.0L382.5,195.4L383.0,196.9L383.8,194.6L385.1,194.1L386.4,197.2L387.7,197.3L389.0,195.6L390.0,197.7L390.3,197.9L391.6,198.8L392.9,198.1L394.2,199.4L395.5,199.6L396.0,197.8L396.8,197.4L398.1,198.0L399.4,198.7L400.0,197.9L400.7,201.0L402.0,199.2L403.3,198.1L404.6,201.2L405.0,199.1L405.9,198.7L407.2,197.0L408.5,197.2L409.8,198.6L411.1,199.2L412.0,195.8L412.4,196.8L413.7,193.8L415.0,190.3L416.3,188.1L417.6,189.0L418.0,189.1L418.9,190.1L420.2,190.1L421.5,189.3L422.8,192.7L423.0,194.5L424.1,194.5L425.0,193.7L425.4,190.4L426.7,186.9L427.0,186.6L428.0,185.5L428.0,186.2L429.3,183.9L430.5,179.4L430.6,179.4L431.0,176.3L431.9,178.8L433.0,182.8L433.2,184.2L434.5,189.0L435.0,191.4L435.8,191.6L436.0,192.6L437.1,198.9L438.4,203.0L439.7,207.5L440.0,207.7L441.0,211.5L442.3,214.2L443.6,217.1L444.0,218.5L444.9,219.8L446.0,220.8L446.2,221.2L447.5,222.5L448.5,221.8L448.8,221.3L450.1,220.2L451.0,224.0L451.4,223.8L452.0,223.7L452.7,223.5L454.0,222.8L455.3,218.3L456.0,218.0L456.6,216.8L457.9,213.4L459.2,212.1L460.0,209.6L460.5,207.9L461.8,206.5L462.0,205.0L463.1,206.7L464.4,205.8L465.0,204.6L465.7,204.9L467.0,204.6L468.3,203.3L469.6,203.1L470.0,201.7L470.9,199.2L472.0,199.8L472.2,199.5L473.5,198.9L474.8,198.9L476.0,195.2L476.1,197.4L477.4,192.5L478.7,192.6L480.0,191.8L480.0,190.9L481.3,194.4L482.6,191.6L483.9,190.9L485.2,191.0L486.5,189.9L487.8,187.8L489.1,191.8L490.4,193.5L491.7,193.7L493.0,192.9L494.3,189.9L495.6,191.3L496.9,188.6L498.2,191.1L499.5,197.8L500.0,199.1L500.8,199.9L502.1,198.6L503.4,197.0L504.7,196.6L506.0,195.3L507.3,192.6L508.6,200.3L509.9,201.6L510.0,200.3L511.2,196.8L512.5,193.8L513.8,192.7L515.1,193.5L516.4,190.1L517.7,192.6L519.0,191.3L520.0,191.4L520.3,192.2L521.6,195.0L522.9,198.7L524.2,196.2L525.5,194.0L526.8,193.1L528.1,193.8L529.4,193.3L530.7,192.3L532.0,195.3L533.3,195.8L534.6,196.3L535.9,198.3L537.2,198.2L538.0,197.5L538.5,199.4L539.8,199.5L541.1,196.3L542.4,192.5L543.7,193.8L545.0,197.9L545.0,196.6L546.3,192.6L547.6,186.7L548.9,182.7L549.0,182.1L550.2,179.4L551.5,176.6L552.0,174.8L552.8,178.4L554.1,187.1L555.0,188.8L555.4,187.9L556.0,192.9L556.7,197.1L557.5,199.4L558.0,202.5L559.0,208.3L559.3,210.6L559.5,212.4L560.6,216.3L561.0,217.8L561.4,215.8L561.9,214.9L563.2,209.7L563.5,209.8L564.0,207.1L564.5,205.6L565.8,203.6L566.5,203.7L567.1,203.5L568.0,200.5L568.4,202.5L569.7,201.6L571.0,199.0L572.0,196.5L572.3,196.9L573.6,194.8L574.9,194.9L575.0,195.2L576.2,194.4L577.5,194.0L578.8,195.6L580.0,194.0L580.1,194.6L581.4,194.2L582.7,193.1L584.0,193.5L585.3,197.5L586.6,197.2L587.9,196.9L589.2,198.4L590.5,198.0L591.8,194.9L593.1,195.4L594.4,192.8L595.7,193.3L597.0,193.5L598.0,193.8L598.3,194.3L599.6,194.5L600.9,196.7L602.2,194.7L603.5,196.1L604.8,199.4L606.1,197.6L607.4,198.8L608.7,198.9L610.0,196.6L610.0,195.7L611.3,195.0L612.6,194.3L613.9,193.0L615.0,192.4L615.2,193.3L616.5,195.1L617.8,197.8L619.1,199.5L620.4,198.4L621.0,200.0L621.7,200.3L623.0,201.6L624.3,204.2L625.6,206.4L626.9,205.3L628.0,206.1L628.2,205.3L629.5,204.0L630.8,201.5L632.0,199.5L632.1,198.8L633.4,200.5L634.7,199.3L636.0,199.6L636.0,200.0" fill="none" stroke="#FFA000" stroke-width="1.6" stroke-linejoin="round"/>
<path d="M129.0,225.2L130.3,226.1L131.0,227.7L131.6,229.6L132.9,227.4L133.0,225.5L134.2,215.6L135.0,214.5L135.5,213.2L136.8,207.3L137.0,208.7L138.1,205.1L139.4,196.2L140.0,198.3L140.7,197.1L141.0,195.2L142.0,193.4L143.3,183.1L144.0,178.2L144.6,172.4L145.9,176.6L147.0,177.1L147.2,178.0L148.5,187.7L149.8,191.3L150.0,194.4L151.1,198.2L152.0,203.2L152.4,206.5L153.0,202.1L153.7,211.1L155.0,213.1L156.3,214.9L157.0,216.2L157.6,219.1L158.0,217.0L158.9,220.7L160.2,222.9L161.0,227.2L161.5,226.7L162.8,228.3L164.1,226.8L165.0,230.3L165.4,230.0L166.0,230.3L166.7,232.1L168.0,233.4L169.3,237.9L170.6,240.6L171.0,238.3L171.9,241.7L172.0,243.0L173.2,242.1L174.5,244.8L175.8,243.8L176.0,245.3L177.1,243.2L178.0,243.5L178.4,245.3L179.7,247.7L180.0,247.3L181.0,249.8L182.3,250.7L183.6,250.9L184.0,252.9L184.9,249.4L185.0,250.9L186.2,247.3L187.5,242.0L188.0,240.1L188.8,238.1L190.1,236.5L191.4,233.4L192.0,237.1L192.7,234.7L194.0,231.0L195.3,222.9L196.6,220.1L197.0,215.9L197.9,212.3L199.2,208.4L200.0,209.4L200.5,210.2L201.8,212.8L202.0,212.7L203.1,216.5L204.4,211.4L205.7,207.5L206.0,207.8L207.0,205.1L208.0,194.1L208.3,193.4L209.0,188.9L209.6,185.6L210.9,184.1L211.5,181.2L212.2,180.7L213.0,176.9L213.5,172.6L214.0,173.5L214.8,175.7L216.0,186.3L216.1,184.6L217.4,210.1L218.0,222.8L218.7,227.1L219.0,230.5L220.0,241.7L220.0,240.7L221.3,229.4L222.0,224.3L222.6,222.5L223.9,211.4L224.5,209.8L225.2,209.2L226.0,201.4L226.5,204.4L227.8,195.7L228.0,195.4L229.1,195.9L230.4,188.3L231.7,192.5L233.0,202.7L233.0,204.4L234.3,205.1L235.6,207.0L236.9,216.6L237.0,210.0L238.2,211.6L239.5,211.6L240.0,205.8L240.8,209.3L241.0,210.1L242.1,207.4L243.4,202.9L244.7,203.0L245.0,201.8L246.0,207.6L247.3,202.0L248.6,196.7L249.9,189.9L250.0,180.8L251.2,180.7L252.5,181.7L253.8,177.6L255.1,189.5L256.4,190.6L257.7,194.0L259.0,203.8L260.0,198.8L260.3,207.9L261.6,207.8L262.9,202.6L264.2,201.1L265.5,202.3L266.8,204.3L268.1,201.5L269.4,197.3L270.7,197.3L272.0,196.6L273.3,190.0L274.6,200.1L275.9,201.5L277.2,198.6L278.5,205.3L279.8,202.3L280.0,205.4L281.1,203.1L282.4,191.3L283.7,180.2L285.0,197.7L286.3,204.4L287.6,193.8L288.9,185.1L290.2,181.0L291.5,184.2L292.8,182.6L294.1,186.3L295.4,187.6L296.7,188.9L298.0,190.7L299.3,185.0L300.0,188.7L300.6,185.8L301.9,189.2L303.2,188.4L304.5,191.1L305.8,196.7L307.1,196.5L308.4,206.1L309.7,201.8L311.0,195.8L312.3,190.0L313.6,192.0L314.9,182.7L316.2,187.1L317.5,202.7L318.8,196.5L320.0,203.3L320.1,202.4L321.4,202.4L322.7,194.1L324.0,189.9L325.3,197.2L326.6,192.9L327.9,200.4L329.2,200.5L330.5,200.9L331.8,197.8L333.1,197.6L334.4,202.9L335.0,207.5L335.7,196.6L337.0,197.5L338.3,192.3L339.6,194.3L340.0,194.3L340.9,188.0L342.2,187.1L343.5,179.8L344.0,179.9L344.8,176.7L345.0,178.7L346.1,177.6L347.4,175.2L348.0,173.7L348.7,179.4L350.0,183.6L351.0,186.0L351.3,187.8L352.6,190.9L353.9,191.1L354.0,195.3L355.0,204.6L355.2,202.3L356.5,219.4L357.0,222.5L357.8,230.6L359.0,238.4L359.1,239.4L359.5,242.8L360.4,240.0L361.7,229.4L362.0,229.3L363.0,224.1L364.0,220.9L364.3,221.8L365.6,227.8L366.0,229.4L366.9,234.7L368.2,238.5L369.0,243.6L369.5,243.5L370.8,240.6L372.0,238.8L372.1,236.0L373.4,229.0L374.0,221.7L374.7,217.5L375.0,215.5L376.0,211.0L377.3,206.3L378.0,206.3L378.6,211.1L379.9,205.0L381.2,197.4L382.0,199.2L382.5,202.3L383.0,199.0L383.8,203.8L385.1,209.5L386.4,205.8L387.7,209.9L389.0,204.3L390.0,203.6L390.3,204.5L391.6,201.6L392.9,199.8L394.2,199.9L395.5,196.2L396.0,193.4L396.8,192.0L398.1,185.9L399.4,196.8L400.0,194.2L400.7,196.1L402.0,197.9L403.3,197.1L404.6,196.7L405.0,197.6L405.9,190.9L407.2,177.9L408.5,179.8L409.8,182.6L411.1,180.4L412.0,179.3L412.4,180.7L413.7,178.7L415.0,185.0L416.3,190.9L417.6,191.8L418.0,190.8L418.9,186.7L420.2,182.1L421.5,182.2L422.8,183.6L423.0,180.9L424.1,178.0L425.0,181.5L425.4,182.5L426.7,181.5L427.0,181.7L428.0,174.0L428.0,175.6L429.3,163.7L430.5,156.3L430.6,158.1L431.0,160.8L431.9,161.7L433.0,170.0L433.2,172.6L434.5,181.5L435.0,190.5L435.8,197.4L436.0,195.9L437.1,202.6L438.4,213.0L439.7,220.0L440.0,220.5L441.0,227.0L442.3,230.2L443.6,238.5L444.0,240.5L444.9,246.6L446.0,249.9L446.2,252.2L447.5,259.9L448.5,265.4L448.8,264.7L450.1,259.3L451.0,256.1L451.4,253.8L452.0,251.3L452.7,245.2L454.0,239.8L455.3,234.4L456.0,231.3L456.6,230.7L457.9,226.6L459.2,218.4L460.0,214.7L460.5,215.4L461.8,208.1L462.0,210.8L463.1,205.9L464.4,211.9L465.0,213.2L465.7,208.8L467.0,205.8L468.3,203.9L469.6,203.5L470.0,201.8L470.9,196.1L472.0,199.9L472.2,193.0L473.5,201.5L474.8,201.0L476.0,197.5L476.1,199.7L477.4,200.6L478.7,195.2L480.0,188.9L480.0,187.5L481.3,185.6L482.6,189.7L483.9,200.3L485.2,203.1L486.5,200.5L487.8,204.1L489.1,199.6L490.4,190.0L491.7,184.4L493.0,190.3L494.3,194.3L495.6,190.7L496.9,191.2L498.2,191.6L499.5,191.3L500.0,191.3L500.8,190.4L502.1,184.8L503.4,181.9L504.7,183.3L506.0,182.4L507.3,186.7L508.6,184.7L509.9,185.4L510.0,188.4L511.2,186.2L512.5,185.1L513.8,180.9L515.1,182.8L516.4,182.3L517.7,185.8L519.0,189.7L520.0,191.4L520.3,192.5L521.6,194.0L522.9,194.7L524.2,192.1L525.5,191.9L526.8,194.4L528.1,193.4L529.4,195.6L530.7,190.5L532.0,189.0L533.3,189.6L534.6,183.0L535.9,187.5L537.2,195.9L538.0,196.2L538.5,201.5L539.8,196.5L541.1,200.1L542.4,200.0L543.7,193.8L545.0,193.3L545.0,195.8L546.3,193.1L547.6,185.5L548.9,183.0L549.0,177.9L550.2,175.0L551.5,164.9L552.0,167.0L552.8,168.3L554.1,170.2L555.0,172.4L555.4,179.0L556.0,184.9L556.7,190.1L557.5,198.9L558.0,205.4L559.0,221.2L559.3,226.0L559.5,227.5L560.6,236.3L561.0,238.9L561.4,242.9L561.9,239.7L563.2,223.3L563.5,222.5L564.0,220.3L564.5,213.9L565.8,208.1L566.5,203.9L567.1,200.3L568.0,202.6L568.4,201.8L569.7,207.5L571.0,201.0L572.0,198.9L572.3,195.6L573.6,196.0L574.9,197.5L575.0,196.3L576.2,198.1L577.5,196.4L578.8,193.8L580.0,193.6L580.1,193.1L581.4,193.8L582.7,193.8L584.0,192.8L585.3,194.4L586.6,194.4L587.9,193.6L589.2,195.1L590.5,195.2L591.8,193.6L593.1,187.5L594.4,191.0L595.7,194.9L597.0,195.6L598.0,197.0L598.3,196.1L599.6,194.7L600.9,192.8L602.2,192.4L603.5,191.0L604.8,193.2L606.1,194.3L607.4,193.4L608.7,189.2L610.0,191.6L610.0,192.5L611.3,197.4L612.6,200.2L613.9,195.3L615.0,194.4L615.2,193.8L616.5,198.0L617.8,197.0L619.1,198.7L620.4,201.3L621.0,205.0L621.7,204.2L623.0,204.3L624.3,205.5L625.6,205.3L626.9,204.2L628.0,207.6L628.2,205.7L629.5,205.8L630.8,201.4L632.0,200.6L632.1,201.3L633.4,204.8L634.7,204.5L636.0,204.1L636.0,204.6" fill="none" stroke="#FF0000" stroke-width="1.8" stroke-linejoin="round"/>
<path d="M129.0,237.7L130.3,234.6L131.0,235.6L131.6,231.8L132.9,229.3L133.0,229.6L134.2,225.7L135.0,226.7L135.5,219.2L136.8,214.3L137.0,206.7L138.1,203.2L139.4,194.5L140.0,190.0L140.7,186.1L141.0,180.1L142.0,177.5L143.3,179.8L144.0,178.8L144.6,175.4L145.9,174.7L147.0,172.3L147.2,175.0L148.5,176.2L149.8,185.2L150.0,186.6L151.1,194.6L152.0,195.5L152.4,198.0L153.0,196.3L153.7,199.6L155.0,198.8L156.3,212.5L157.0,219.0L157.6,218.8L158.0,221.2L158.9,227.8L160.2,233.7L161.0,236.9L161.5,234.7L162.8,237.2L164.1,238.4L165.0,238.3L165.4,240.0L166.0,238.1L166.7,236.7L168.0,239.7L169.3,240.8L170.6,242.6L171.0,244.6L171.9,245.8L172.0,248.1L173.2,250.0L174.5,251.8L175.8,254.4L176.0,256.9L177.1,257.0L178.0,254.9L178.4,255.1L179.7,250.7L180.0,250.1L181.0,251.0L182.3,250.0L183.6,251.6L184.0,250.9L184.9,252.5L185.0,253.5L186.2,253.5L187.5,249.5L188.0,247.8L188.8,244.2L190.1,236.4L191.4,237.1L192.0,235.2L192.7,234.4L194.0,234.2L195.3,232.9L196.6,228.9L197.0,228.2L197.9,223.3L199.2,217.9L200.0,217.9L200.5,217.2L201.8,209.4L202.0,208.9L203.1,205.6L204.4,202.6L205.7,199.2L206.0,199.0L207.0,192.6L208.0,194.1L208.3,196.4L209.0,191.4L209.6,188.3L210.9,181.4L211.5,175.1L212.2,177.2L213.0,177.0L213.5,174.2L214.0,174.5L214.8,183.8L216.0,191.6L216.1,189.0L217.4,212.9L218.0,226.0L218.7,233.3L219.0,233.1L220.0,246.5L220.0,247.2L221.3,235.8L222.0,233.7L222.6,228.9L223.9,214.1L224.5,205.9L225.2,203.2L226.0,200.3L226.5,197.7L227.8,194.7L228.0,192.5L229.1,194.9L230.4,195.9L231.7,188.9L233.0,200.7L233.0,200.6L234.3,213.8L235.6,213.7L236.9,210.9L237.0,206.7L238.2,214.7L239.5,218.7L240.0,221.1L240.8,224.3L241.0,221.1L242.1,217.2L243.4,204.8L244.7,195.0L245.0,194.2L246.0,199.5L247.3,197.5L248.6,205.7L249.9,207.9L250.0,203.7L251.2,202.2L252.5,199.7L253.8,199.1L255.1,205.0L256.4,212.8L257.7,210.2L259.0,203.8L260.0,206.7L260.3,200.4L261.6,196.1L262.9,197.4L264.2,191.5L265.5,198.8L266.8,194.2L268.1,195.4L269.4,198.5L270.7,193.7L272.0,195.4L273.3,190.6L274.6,199.9L275.9,202.1L277.2,201.6L278.5,194.5L279.8,195.6L280.0,193.0L281.1,191.2L282.4,190.7L283.7,187.7L285.0,191.5L286.3,201.8L287.6,206.5L288.9,204.9L290.2,198.2L291.5,188.2L292.8,180.6L294.1,184.2L295.4,191.5L296.7,197.2L298.0,191.9L299.3,191.0L300.0,192.1L300.6,190.8L301.9,194.9L303.2,190.9L304.5,188.4L305.8,182.6L307.1,195.1L308.4,197.1L309.7,194.9L311.0,187.5L312.3,180.2L313.6,197.3L314.9,203.0L316.2,206.9L317.5,197.6L318.8,198.8L320.0,191.7L320.1,193.4L321.4,199.2L322.7,197.3L324.0,207.6L325.3,198.0L326.6,189.2L327.9,181.6L329.2,186.0L330.5,183.9L331.8,185.2L333.1,193.3L334.4,190.7L335.0,190.6L335.7,198.7L337.0,196.7L338.3,191.5L339.6,187.2L340.0,184.4L340.9,187.5L342.2,182.5L343.5,179.4L344.0,180.3L344.8,179.8L345.0,180.8L346.1,174.7L347.4,173.2L348.0,168.7L348.7,167.4L350.0,168.8L351.0,170.5L351.3,175.6L352.6,178.9L353.9,190.9L354.0,189.5L355.0,200.3L355.2,207.7L356.5,225.2L357.0,230.8L357.8,237.3L359.0,248.4L359.1,251.4L359.5,253.6L360.4,246.9L361.7,240.7L362.0,238.1L363.0,231.7L364.0,227.6L364.3,232.4L365.6,240.3L366.0,239.9L366.9,244.9L368.2,248.3L369.0,252.1L369.5,253.0L370.8,249.3L372.0,248.4L372.1,247.1L373.4,233.6L374.0,231.7L374.7,225.3L375.0,222.1L376.0,217.0L377.3,208.9L378.0,207.3L378.6,209.6L379.9,205.1L381.2,198.8L382.0,200.6L382.5,196.7L383.0,199.5L383.8,193.4L385.1,197.1L386.4,194.0L387.7,196.2L389.0,202.5L390.0,200.0L390.3,199.7L391.6,202.4L392.9,199.0L394.2,197.4L395.5,197.3L396.0,192.3L396.8,193.9L398.1,188.7L399.4,193.4L400.0,190.3L400.7,194.3L402.0,190.6L403.3,182.9L404.6,181.2L405.0,178.8L405.9,183.6L407.2,188.8L408.5,182.8L409.8,182.5L411.1,180.4L412.0,184.7L412.4,183.1L413.7,183.1L415.0,182.9L416.3,183.0L417.6,186.1L418.0,185.7L418.9,188.1L420.2,187.8L421.5,182.2L422.8,182.1L423.0,181.8L424.1,178.4L425.0,172.7L425.4,173.7L426.7,167.8L427.0,169.7L428.0,166.2L428.0,168.3L429.3,161.4L430.5,157.8L430.6,155.4L431.0,160.3L431.9,164.4L433.0,167.8L433.2,166.7L434.5,178.4L435.0,188.8L435.8,198.1L436.0,201.6L437.1,204.6L438.4,208.5L439.7,217.1L440.0,220.8L441.0,230.9L442.3,243.1L443.6,251.2L444.0,251.8L444.9,253.9L446.0,257.0L446.2,257.7L447.5,263.2L448.5,267.2L448.8,266.5L450.1,261.9L451.0,262.2L451.4,260.7L452.0,260.1L452.7,257.1L454.0,251.4L455.3,243.9L456.0,242.9L456.6,240.2L457.9,229.3L459.2,221.3L460.0,219.8L460.5,219.6L461.8,217.5L462.0,219.9L463.1,215.3L464.4,211.2L465.0,208.2L465.7,207.4L467.0,208.3L468.3,203.0L469.6,198.6L470.0,199.1L470.9,193.8L472.0,188.5L472.2,188.0L473.5,185.8L474.8,187.2L476.0,187.9L476.1,187.4L477.4,187.3L478.7,187.0L480.0,189.8L480.0,189.0L481.3,190.6L482.6,197.2L483.9,193.2L485.2,197.6L486.5,195.3L487.8,196.7L489.1,196.6L490.4,199.2L491.7,202.1L493.0,192.9L494.3,192.0L495.6,188.9L496.9,189.7L498.2,189.9L499.5,191.2L500.0,192.2L500.8,191.7L502.1,181.6L503.4,179.0L504.7,182.6L506.0,191.9L507.3,186.0L508.6,180.7L509.9,176.3L510.0,177.8L511.2,178.5L512.5,180.3L513.8,182.2L515.1,193.3L516.4,199.4L517.7,193.0L519.0,182.5L520.0,185.7L520.3,184.9L521.6,179.8L522.9,184.6L524.2,189.9L525.5,185.8L526.8,190.3L528.1,186.0L529.4,186.6L530.7,191.7L532.0,193.4L533.3,193.6L534.6,194.5L535.9,196.1L537.2,202.4L538.0,196.4L538.5,196.1L539.8,188.8L541.1,182.2L542.4,182.2L543.7,187.4L545.0,185.2L545.0,183.1L546.3,180.5L547.6,180.2L548.9,174.6L549.0,175.4L550.2,175.7L551.5,172.7L552.0,167.8L552.8,166.4L554.1,173.0L555.0,179.1L555.4,184.6L556.0,189.5L556.7,193.3L557.5,202.1L558.0,217.3L559.0,232.0L559.3,236.0L559.5,236.6L560.6,244.4L561.0,250.6L561.4,252.1L561.9,247.2L563.2,230.0L563.5,226.3L564.0,224.8L564.5,220.7L565.8,210.6L566.5,204.5L567.1,200.6L568.0,200.7L568.4,200.5L569.7,200.0L571.0,195.5L572.0,195.0L572.3,196.7L573.6,197.3L574.9,198.0L575.0,200.9L576.2,200.9L577.5,198.8L578.8,198.7L580.0,195.4L580.1,193.3L581.4,193.5L582.7,193.3L584.0,194.3L585.3,190.3L586.6,188.0L587.9,189.1L589.2,190.4L590.5,189.1L591.8,192.4L593.1,191.6L594.4,192.1L595.7,194.8L597.0,192.2L598.0,189.7L598.3,186.4L599.6,187.8L600.9,188.1L602.2,189.7L603.5,191.7L604.8,191.9L606.1,193.3L607.4,192.3L608.7,190.8L610.0,192.4L610.0,195.3L611.3,199.2L612.6,197.5L613.9,198.3L615.0,197.1L615.2,195.3L616.5,197.0L617.8,198.7L619.1,198.5L620.4,198.5L621.0,199.1L621.7,199.9L623.0,202.4L624.3,204.1L625.6,207.6L626.9,211.7L628.0,212.6L628.2,212.7L629.5,213.6L630.8,208.6L632.0,206.2L632.1,208.3L633.4,207.7L634.7,208.2L636.0,206.6L636.0,205.8" fill="none" stroke="#E80000" stroke-width="1.8" stroke-linejoin="round"/>
<path d="M129.0,242.6L130.3,240.3L131.0,238.9L131.6,238.7L132.9,235.9L133.0,234.2L134.2,229.3L135.0,223.3L135.5,220.1L136.8,209.4L137.0,211.6L138.1,206.0L139.4,191.5L140.0,190.4L140.7,181.5L141.0,181.0L142.0,177.7L143.3,173.0L144.0,170.1L144.6,173.6L145.9,170.6L147.0,173.1L147.2,172.4L148.5,183.8L149.8,187.4L150.0,185.1L151.1,193.9L152.0,202.7L152.4,205.9L153.0,205.6L153.7,209.3L155.0,217.6L156.3,225.7L157.0,229.6L157.6,235.5L158.0,235.8L158.9,236.6L160.2,242.0L161.0,240.5L161.5,243.4L162.8,243.6L164.1,246.3L165.0,249.7L165.4,251.1L166.0,251.9L166.7,252.1L168.0,256.3L169.3,260.7L170.6,262.1L171.0,264.0L171.9,260.9L172.0,261.6L173.2,260.1L174.5,261.8L175.8,268.0L176.0,268.0L177.1,270.2L178.0,272.6L178.4,271.1L179.7,273.1L180.0,272.5L181.0,273.1L182.3,271.8L183.6,271.9L184.0,271.2L184.9,268.0L185.0,267.9L186.2,264.3L187.5,262.3L188.0,261.3L188.8,259.3L190.1,257.0L191.4,251.4L192.0,249.5L192.7,250.5L194.0,248.3L195.3,242.6L196.6,238.4L197.0,235.0L197.9,231.4L199.2,227.6L200.0,224.7L200.5,224.1L201.8,221.5L202.0,221.5L203.1,213.7L204.4,215.1L205.7,205.9L206.0,210.6L207.0,207.4L208.0,205.0L208.3,202.1L209.0,203.8L209.6,193.6L210.9,185.7L211.5,178.9L212.2,174.9L213.0,168.3L213.5,166.0L214.0,164.3L214.8,174.1L216.0,179.9L216.1,185.4L217.4,216.3L218.0,230.8L218.7,244.1L219.0,244.9L220.0,261.1L220.0,259.0L221.3,243.7L222.0,235.9L222.6,231.2L223.9,220.8L224.5,211.3L225.2,212.4L226.0,211.3L226.5,208.9L227.8,207.4L228.0,204.8L229.1,209.4L230.4,214.3L231.7,212.8L233.0,200.1L233.0,207.0L234.3,199.4L235.6,200.7L236.9,207.8L237.0,207.2L238.2,217.1L239.5,217.2L240.0,221.7L240.8,225.6L241.0,224.7L242.1,222.8L243.4,207.1L244.7,203.1L245.0,198.5L246.0,197.3L247.3,205.1L248.6,206.7L249.9,201.3L250.0,200.4L251.2,204.2L252.5,204.6L253.8,195.7L255.1,198.7L256.4,200.5L257.7,199.5L259.0,197.3L260.0,194.4L260.3,195.8L261.6,197.0L262.9,194.5L264.2,200.2L265.5,201.7L266.8,203.5L268.1,199.5L269.4,186.9L270.7,193.6L272.0,196.7L273.3,200.7L274.6,199.9L275.9,204.4L277.2,203.3L278.5,202.2L279.8,196.3L280.0,189.0L281.1,187.6L282.4,179.6L283.7,184.2L285.0,179.3L286.3,179.9L287.6,181.7L288.9,184.3L290.2,194.1L291.5,202.3L292.8,209.1L294.1,207.9L295.4,202.1L296.7,196.2L298.0,197.6L299.3,194.8L300.0,189.2L300.6,194.0L301.9,187.7L303.2,197.5L304.5,208.0L305.8,207.0L307.1,201.9L308.4,189.8L309.7,191.0L311.0,180.2L312.3,182.7L313.6,182.0L314.9,186.3L316.2,185.8L317.5,179.3L318.8,181.4L320.0,181.2L320.1,181.1L321.4,183.3L322.7,183.2L324.0,189.8L325.3,192.8L326.6,190.8L327.9,199.2L329.2,194.6L330.5,196.1L331.8,193.2L333.1,183.7L334.4,179.0L335.0,189.0L335.7,196.6L337.0,192.7L338.3,187.4L339.6,178.9L340.0,176.5L340.9,173.5L342.2,174.3L343.5,172.7L344.0,170.1L344.8,170.1L345.0,168.9L346.1,165.3L347.4,159.4L348.0,156.5L348.7,158.3L350.0,161.9L351.0,168.7L351.3,170.2L352.6,189.0L353.9,203.0L354.0,201.8L355.0,218.6L355.2,222.5L356.5,244.9L357.0,253.1L357.8,262.9L359.0,278.4L359.1,278.7L359.5,284.2L360.4,277.1L361.7,265.8L362.0,262.9L363.0,252.6L364.0,245.3L364.3,245.8L365.6,251.7L366.0,254.7L366.9,261.1L368.2,272.6L369.0,277.8L369.5,278.5L370.8,272.8L372.0,269.5L372.1,268.5L373.4,255.9L374.0,249.3L374.7,243.9L375.0,240.4L376.0,232.7L377.3,219.8L378.0,217.0L378.6,214.4L379.9,215.4L381.2,208.4L382.0,205.7L382.5,201.0L383.0,200.9L383.8,197.2L385.1,190.7L386.4,194.2L387.7,198.7L389.0,193.8L390.0,199.7L390.3,192.8L391.6,197.4L392.9,200.1L394.2,197.3L395.5,197.1L396.0,198.2L396.8,196.6L398.1,194.3L399.4,186.3L400.0,190.4L400.7,185.6L402.0,182.9L403.3,186.9L404.6,183.5L405.0,182.9L405.9,184.4L407.2,179.8L408.5,178.5L409.8,177.9L411.1,172.3L412.0,173.8L412.4,174.5L413.7,178.9L415.0,180.1L416.3,183.9L417.6,181.4L418.0,183.4L418.9,184.6L420.2,192.0L421.5,182.2L422.8,180.3L423.0,177.4L424.1,178.1L425.0,179.1L425.4,177.7L426.7,170.8L427.0,168.6L428.0,162.4L428.0,163.8L429.3,154.2L430.5,146.4L430.6,144.4L431.0,148.7L431.9,160.0L433.0,172.1L433.2,174.4L434.5,185.3L435.0,187.6L435.8,192.9L436.0,193.4L437.1,203.1L438.4,212.4L439.7,220.4L440.0,224.7L441.0,232.7L442.3,243.1L443.6,252.8L444.0,257.0L444.9,258.6L446.0,262.9L446.2,261.7L447.5,268.3L448.5,272.2L448.8,270.8L450.1,268.8L451.0,265.5L451.4,266.0L452.0,264.4L452.7,260.0L454.0,254.6L455.3,245.7L456.0,240.2L456.6,237.8L457.9,225.5L459.2,221.8L460.0,215.4L460.5,218.0L461.8,212.1L462.0,211.5L463.1,209.7L464.4,204.3L465.0,202.6L465.7,203.1L467.0,199.7L468.3,200.0L469.6,194.9L470.0,197.6L470.9,194.9L472.0,195.1L472.2,197.0L473.5,191.0L474.8,183.7L476.0,187.3L476.1,188.0L477.4,195.8L478.7,202.9L480.0,193.2L480.0,197.1L481.3,189.9L482.6,188.9L483.9,198.3L485.2,195.2L486.5,189.2L487.8,185.0L489.1,195.8L490.4,201.7L491.7,198.9L493.0,191.1L494.3,194.0L495.6,193.9L496.9,197.2L498.2,195.2L499.5,194.7L500.0,195.5L500.8,194.8L502.1,193.9L503.4,188.3L504.7,184.0L506.0,186.7L507.3,189.7L508.6,188.7L509.9,189.8L510.0,194.5L511.2,191.3L512.5,193.4L513.8,193.3L515.1,183.9L516.4,182.6L517.7,189.8L519.0,201.2L520.0,191.0L520.3,191.8L521.6,190.0L522.9,185.3L524.2,189.5L525.5,190.5L526.8,189.9L528.1,190.3L529.4,191.8L530.7,194.5L532.0,195.4L533.3,199.3L534.6,193.6L535.9,182.4L537.2,193.3L538.0,197.2L538.5,197.0L539.8,195.2L541.1,198.6L542.4,195.8L543.7,191.0L545.0,183.7L545.0,184.8L546.3,179.0L547.6,174.3L548.9,174.1L549.0,173.8L550.2,166.8L551.5,167.6L552.0,164.3L552.8,171.3L554.1,181.2L555.0,182.4L555.4,184.8L556.0,194.6L556.7,199.1L557.5,205.7L558.0,215.5L559.0,230.1L559.3,238.2L559.5,238.2L560.6,251.7L561.0,255.3L561.4,256.5L561.9,253.3L563.2,236.9L563.5,232.9L564.0,229.4L564.5,226.8L565.8,217.3L566.5,212.2L567.1,207.8L568.0,206.7L568.4,203.4L569.7,200.6L571.0,201.0L572.0,196.8L572.3,200.3L573.6,201.5L574.9,198.7L575.0,200.8L576.2,196.7L577.5,197.7L578.8,197.3L580.0,201.7L580.1,198.8L581.4,197.6L582.7,198.8L584.0,196.3L585.3,196.5L586.6,195.6L587.9,195.7L589.2,193.3L590.5,193.6L591.8,189.8L593.1,189.9L594.4,189.6L595.7,193.0L597.0,192.1L598.0,194.1L598.3,193.4L599.6,192.6L600.9,192.7L602.2,193.1L603.5,192.4L604.8,190.2L606.1,190.8L607.4,195.6L608.7,198.9L610.0,199.2L610.0,199.6L611.3,199.3L612.6,199.7L613.9,196.4L615.0,193.6L615.2,195.9L616.5,196.5L617.8,196.4L619.1,197.8L620.4,199.2L621.0,200.4L621.7,200.5L623.0,205.6L624.3,209.9L625.6,212.1L626.9,209.5L628.0,207.5L628.2,206.9L629.5,207.8L630.8,206.9L632.0,205.8L632.1,207.1L633.4,205.4L634.7,208.6L636.0,206.1L636.0,203.6" fill="none" stroke="#C00000" stroke-width="1.8" stroke-linejoin="round"/>
<path d="M129.0,263.1L130.3,258.3L131.0,255.0L131.6,251.4L132.9,245.9L133.0,244.1L134.2,233.9L135.0,227.9L135.5,225.9L136.8,217.4L137.0,220.7L138.1,211.9L139.4,204.7L140.0,200.6L140.7,190.9L141.0,189.7L142.0,180.9L143.3,174.1L144.0,172.8L144.6,172.1L145.9,168.5L147.0,162.7L147.2,163.9L148.5,167.1L149.8,177.2L150.0,177.2L151.1,187.4L152.0,199.5L152.4,198.9L153.0,205.3L153.7,209.9L155.0,220.8L156.3,227.9L157.0,235.5L157.6,234.2L158.0,238.0L158.9,243.6L160.2,253.0L161.0,258.5L161.5,259.0L162.8,261.1L164.1,263.7L165.0,265.8L165.4,267.9L166.0,268.5L166.7,269.6L168.0,271.3L169.3,272.2L170.6,274.9L171.0,275.5L171.9,278.8L172.0,278.4L173.2,283.2L174.5,285.2L175.8,286.0L176.0,286.0L177.1,286.8L178.0,287.6L178.4,287.5L179.7,288.8L180.0,288.6L181.0,290.5L182.3,292.8L183.6,294.2L184.0,293.4L184.9,290.2L185.0,290.5L186.2,286.2L187.5,280.9L188.0,278.3L188.8,272.8L190.1,267.7L191.4,265.9L192.0,262.7L192.7,260.4L194.0,256.9L195.3,253.1L196.6,247.4L197.0,244.3L197.9,239.8L199.2,235.2L200.0,229.4L200.5,229.0L201.8,226.6L202.0,222.2L203.1,218.9L204.4,214.4L205.7,215.9L206.0,215.2L207.0,210.9L208.0,205.5L208.3,204.7L209.0,197.4L209.6,198.1L210.9,179.5L211.5,176.1L212.2,173.7L213.0,168.9L213.5,166.7L214.0,163.8L214.8,177.3L216.0,190.0L216.1,196.0L217.4,235.4L218.0,252.6L218.7,264.4L219.0,270.7L220.0,284.4L220.0,283.6L221.3,260.9L222.0,250.9L222.6,242.7L223.9,225.3L224.5,218.9L225.2,212.5L226.0,208.9L226.5,209.6L227.8,199.5L228.0,197.4L229.1,200.7L230.4,200.9L231.7,200.4L233.0,204.3L233.0,201.6L234.3,207.0L235.6,218.1L236.9,216.2L237.0,216.8L238.2,221.4L239.5,230.4L240.0,235.2L240.8,234.3L241.0,235.5L242.1,229.5L243.4,216.3L244.7,207.7L245.0,210.0L246.0,210.0L247.3,210.6L248.6,197.5L249.9,187.7L250.0,192.2L251.2,185.4L252.5,179.4L253.8,180.8L255.1,188.1L256.4,192.0L257.7,203.3L259.0,201.1L260.0,207.4L260.3,204.7L261.6,200.7L262.9,194.0L264.2,192.1L265.5,193.8L266.8,190.2L268.1,188.2L269.4,187.9L270.7,186.8L272.0,196.6L273.3,202.7L274.6,201.4L275.9,201.2L277.2,196.2L278.5,193.5L279.8,184.6L280.0,190.2L281.1,183.9L282.4,187.8L283.7,185.1L285.0,184.2L286.3,177.3L287.6,190.9L288.9,195.5L290.2,191.3L291.5,183.2L292.8,187.9L294.1,192.2L295.4,210.3L296.7,193.8L298.0,193.8L299.3,191.5L300.0,199.6L300.6,190.9L301.9,194.4L303.2,194.9L304.5,197.8L305.8,194.6L307.1,192.5L308.4,190.3L309.7,188.1L311.0,187.3L312.3,194.2L313.6,187.4L314.9,184.2L316.2,190.8L317.5,187.4L318.8,190.9L320.0,188.9L320.1,188.7L321.4,188.0L322.7,180.9L324.0,180.0L325.3,185.9L326.6,187.8L327.9,198.5L329.2,203.2L330.5,204.0L331.8,193.5L333.1,189.2L334.4,187.0L335.0,184.3L335.7,180.4L337.0,181.2L338.3,181.0L339.6,185.0L340.0,185.1L340.9,177.6L342.2,167.7L343.5,163.3L344.0,159.1L344.8,156.0L345.0,155.2L346.1,153.8L347.4,149.0L348.0,147.4L348.7,148.1L350.0,156.1L351.0,162.3L351.3,166.7L352.6,187.3L353.9,204.2L354.0,203.0L355.0,222.9L355.2,227.1L356.5,251.1L357.0,262.4L357.8,271.0L359.0,289.6L359.1,291.3L359.5,295.5L360.4,286.2L361.7,272.6L362.0,271.2L363.0,260.7L364.0,249.0L364.3,250.4L365.6,260.7L366.0,264.3L366.9,270.5L368.2,280.3L369.0,286.4L369.5,284.6L370.8,279.1L372.0,271.5L372.1,272.4L373.4,256.7L374.0,250.8L374.7,240.7L375.0,239.3L376.0,231.3L377.3,215.6L378.0,213.0L378.6,210.1L379.9,208.6L381.2,207.3L382.0,206.5L382.5,209.6L383.0,207.8L383.8,208.4L385.1,205.4L386.4,201.9L387.7,193.3L389.0,195.2L390.0,198.6L390.3,197.1L391.6,201.6L392.9,190.7L394.2,185.4L395.5,182.5L396.0,183.4L396.8,177.8L398.1,175.2L399.4,178.8L400.0,179.0L400.7,176.7L402.0,182.7L403.3,186.7L404.6,186.5L405.0,180.8L405.9,183.9L407.2,177.4L408.5,178.2L409.8,181.2L411.1,182.2L412.0,177.8L412.4,174.8L413.7,176.8L415.0,174.6L416.3,175.8L417.6,184.1L418.0,180.2L418.9,186.0L420.2,190.9L421.5,188.2L422.8,184.2L423.0,187.1L424.1,182.6L425.0,183.5L425.4,181.3L426.7,175.0L427.0,172.4L428.0,165.1L428.0,167.8L429.3,154.9L430.5,146.6L430.6,144.9L431.0,148.3L431.9,155.4L433.0,166.2L433.2,166.9L434.5,177.0L435.0,174.7L435.8,184.3L436.0,185.5L437.1,200.3L438.4,211.1L439.7,225.6L440.0,230.4L441.0,237.7L442.3,251.4L443.6,259.1L444.0,260.4L444.9,264.3L446.0,268.7L446.2,269.7L447.5,278.0L448.5,285.5L448.8,285.3L450.1,278.2L451.0,271.7L451.4,268.8L452.0,266.6L452.7,264.0L454.0,256.3L455.3,246.4L456.0,245.1L456.6,241.1L457.9,237.1L459.2,232.2L460.0,225.3L460.5,223.0L461.8,216.0L462.0,218.7L463.1,215.0L464.4,211.5L465.0,208.8L465.7,210.5L467.0,203.7L468.3,205.4L469.6,206.7L470.0,203.3L470.9,204.4L472.0,203.2L472.2,205.0L473.5,200.5L474.8,186.8L476.0,188.7L476.1,188.3L477.4,193.1L478.7,188.1L480.0,190.2L480.0,192.5L481.3,191.2L482.6,192.7L483.9,196.1L485.2,189.5L486.5,189.7L487.8,193.1L489.1,190.0L490.4,192.0L491.7,189.3L493.0,187.4L494.3,189.5L495.6,185.9L496.9,192.6L498.2,186.4L499.5,189.3L500.0,186.8L500.8,185.6L502.1,185.3L503.4,188.1L504.7,191.2L506.0,188.7L507.3,188.8L508.6,190.8L509.9,186.5L510.0,185.7L511.2,192.2L512.5,191.6L513.8,188.9L515.1,184.9L516.4,174.5L517.7,186.5L519.0,195.7L520.0,197.3L520.3,190.5L521.6,186.4L522.9,187.7L524.2,186.6L525.5,191.1L526.8,185.2L528.1,192.4L529.4,187.0L530.7,190.4L532.0,185.8L533.3,185.2L534.6,185.3L535.9,186.6L537.2,182.7L538.0,187.8L538.5,188.4L539.8,183.2L541.1,183.7L542.4,186.0L543.7,191.7L545.0,192.6L545.0,191.1L546.3,180.9L547.6,176.4L548.9,169.3L549.0,173.0L550.2,165.1L551.5,162.6L552.0,163.8L552.8,168.5L554.1,172.3L555.0,178.1L555.4,181.2L556.0,186.9L556.7,194.6L557.5,203.8L558.0,210.9L559.0,229.1L559.3,235.2L559.5,238.5L560.6,252.1L561.0,256.0L561.4,261.2L561.9,254.2L563.2,239.6L563.5,234.7L564.0,229.2L564.5,228.3L565.8,217.7L566.5,211.1L567.1,208.9L568.0,207.5L568.4,208.3L569.7,201.7L571.0,196.7L572.0,196.4L572.3,198.8L573.6,199.3L574.9,198.8L575.0,198.9L576.2,197.7L577.5,198.9L578.8,199.7L580.0,198.3L580.1,198.3L581.4,196.4L582.7,199.9L584.0,199.0L585.3,192.8L586.6,190.0L587.9,187.2L589.2,189.3L590.5,186.3L591.8,191.8L593.1,194.5L594.4,192.9L595.7,187.7L597.0,188.4L598.0,185.0L598.3,183.8L599.6,188.5L600.9,190.3L602.2,191.4L603.5,195.4L604.8,198.0L606.1,196.6L607.4,194.7L608.7,194.4L610.0,197.7L610.0,196.6L611.3,201.0L612.6,199.8L613.9,201.3L615.0,198.9L615.2,202.5L616.5,200.0L617.8,196.8L619.1,199.9L620.4,199.9L621.0,200.9L621.7,202.1L623.0,204.3L624.3,206.0L625.6,206.9L626.9,208.0L628.0,207.7L628.2,209.8L629.5,211.6L630.8,211.3L632.0,212.9L632.1,213.2L633.4,207.4L634.7,204.9L636.0,202.3L636.0,203.4" fill="none" stroke="#A00000" stroke-width="1.8" stroke-linejoin="round"/>
<path d="M129.7,120.7L130.9,117.2L132.1,114.8L133.3,112.5L134.5,112.1L135.7,111.0L136.9,110.3L138.1,108.3L139.3,107.7L140.5,106.2L141.7,105.4L142.9,104.0L144.1,101.0L145.3,98.8L146.5,96.7L147.7,92.6L148.9,88.2L150.1,84.7L151.3,79.9L152.5,73.8L153.7,69.6L154.9,64.4L156.1,59.2L157.3,54.2L158.5,50.3L159.7,44.8L160.9,39.7L162.1,34.9L163.3,33.9L164.5,32.2L165.7,31.1L166.9,30.0L168.1,29.3L169.3,29.3L170.5,28.0L171.7,28.4L172.9,29.2L174.1,29.5L175.3,30.3L176.5,31.4L177.7,33.4L178.9,34.4L180.1,37.0L181.3,40.4L182.5,43.4L183.7,46.9L184.9,50.3L186.1,54.1L187.3,58.2L188.5,61.8L189.7,65.8L190.9,69.6L192.1,73.6L193.3,78.4L194.5,82.1L195.7,85.8L196.9,88.3L198.1,92.0L199.3,94.3L200.5,97.6L201.7,101.1L202.9,103.3L204.1,105.9L205.3,108.7L206.5,111.4L207.7,113.1L208.9,114.2L210.1,115.8L211.3,116.2L212.5,116.0L213.7,115.8L214.9,116.5L216.1,116.6L217.3,116.1L218.5,117.3L219.7,118.9L220.9,121.5L222.1,122.8L223.3,124.5L224.5,125.7L225.7,127.1L226.9,127.8L228.1,129.3L229.3,130.5L230.5,130.4L231.7,130.7L232.9,132.2L234.1,132.1L235.3,132.1L236.5,132.6L237.7,133.2L238.9,134.1L240.1,134.5L241.3,134.2L242.5,133.9L243.7,134.5L244.9,135.4L246.1,135.0L247.3,135.7L248.5,135.8L249.7,135.0L250.9,136.0L252.1,136.1L253.3,136.2L254.5,136.1L255.7,136.7L256.9,136.3L258.1,136.9L259.3,137.1L260.5,137.7L261.7,137.7L262.9,137.1L264.1,137.4L265.3,137.1L266.5,138.1L267.7,138.1L268.9,137.6L270.1,138.2L271.3,138.4L272.5,138.0L273.7,138.9L274.9,138.9L276.1,139.4L277.3,139.3L278.5,138.7L279.7,138.5L280.9,137.5L282.1,138.0L283.3,137.4L284.5,136.7L285.7,135.7L286.9,135.4L288.1,136.3L289.3,136.3L290.5,135.2L291.7,135.6L292.9,135.0L294.1,135.8L295.3,135.7L296.5,135.0L297.7,135.4L298.9,135.5L300.1,135.1L301.3,135.8L302.5,135.3L303.7,135.1L304.9,135.6L306.1,136.1L307.3,135.7L308.5,136.1L309.7,137.2L310.9,137.0L312.1,137.0L313.3,137.1L314.5,136.6L315.7,136.7L316.9,136.8L318.1,137.1L319.3,136.6L320.5,136.6L321.7,136.4L322.9,136.9L324.1,135.9L325.3,136.3L326.5,135.8L327.7,134.4L328.9,134.1L330.1,133.9L331.3,132.5L332.5,131.5L333.7,131.6L334.9,130.3L336.1,129.1L337.3,128.4L338.5,127.4L339.7,125.5L340.9,123.9L342.1,121.7L343.3,119.1L344.5,116.6L345.7,114.0L346.9,110.8L348.1,108.0L349.3,102.5L350.5,98.1L351.7,93.2L352.9,88.3L354.1,81.9L355.3,76.5L356.5,74.5L357.7,72.1L358.9,70.3L360.1,70.8L361.3,72.2L362.5,72.2L363.7,74.2L364.9,76.3L366.1,78.1L367.3,81.0L368.5,82.3L369.7,84.0L370.9,85.5L372.1,87.7L373.3,89.2L374.5,91.9L375.7,94.0L376.9,97.4L378.1,100.1L379.3,103.7L380.5,107.5L381.7,109.0L382.9,110.8L384.1,111.6L385.3,112.8L386.5,114.6L387.7,115.9L388.9,116.6L390.1,118.0L391.3,118.5L392.5,119.8L393.7,121.7L394.9,122.4L396.1,123.6L397.3,125.0L398.5,125.4L399.7,127.2L400.9,128.3L402.1,130.1L403.3,130.6L404.5,133.0L405.7,133.3L406.9,134.8L408.1,136.4L409.3,137.5L410.5,138.0L411.7,138.9L412.9,140.9L414.1,141.0L415.3,141.8L416.5,142.1L417.7,142.2L418.9,142.7L420.1,142.6L421.3,142.9L422.5,141.8L423.7,142.2L424.9,141.4L426.1,141.4L427.3,141.3L428.5,139.3L429.7,137.8L430.9,136.6L432.1,132.5L433.3,129.7L434.5,127.1L435.7,123.8L436.9,119.4L438.1,116.3L439.3,113.7L440.5,112.1L441.7,109.6L442.9,107.7L444.1,105.4L445.3,103.5L446.5,103.9L447.7,104.7L448.9,105.4L450.1,107.3L451.3,109.2L452.5,110.7L453.7,114.1L454.9,116.5L456.1,119.9L457.3,123.1L458.5,124.6L459.7,126.9L460.9,129.3L462.1,131.2L463.3,132.0L464.5,133.6L465.7,135.0L466.9,134.9L468.1,135.9L469.3,135.9L470.5,136.7L471.7,137.7L472.9,137.9L474.1,136.9L475.3,137.2L476.5,137.0L477.7,136.5L478.9,137.4L480.1,137.1L481.3,136.5L482.5,136.9L483.7,136.5L484.9,136.2L486.1,135.5L487.3,135.4L488.5,136.2L489.7,136.1L490.9,135.8L492.1,136.2L493.3,136.1L494.5,135.6L495.7,135.7L496.9,136.0L498.1,136.9L499.3,136.8L500.5,137.0L501.7,137.0L502.9,136.1L504.1,136.0L505.3,135.7L506.5,136.5L507.7,136.5L508.9,135.8L510.1,136.0L511.3,135.3L512.5,136.1L513.7,136.1L514.9,136.2L516.1,136.0L517.3,136.1L518.5,135.1L519.7,136.0L520.9,135.5L522.1,136.3L523.3,136.1L524.5,136.3L525.7,136.4L526.9,135.9L528.1,136.7L529.3,136.1L530.5,137.1L531.7,137.3L532.9,136.7L534.1,137.6L535.3,137.2L536.5,137.1L537.7,137.7L538.9,137.1L540.1,136.9L541.3,137.2L542.5,137.4L543.7,138.1L544.9,138.2L546.1,137.2L547.3,137.3L548.5,136.6L549.7,137.0L550.9,136.1L552.1,135.8L553.3,132.8L554.5,131.8L555.7,128.8L556.9,127.7L558.1,124.7L559.3,122.8L560.5,121.5L561.7,120.1L562.9,119.5L564.1,120.4L565.3,120.9L566.5,123.2L567.7,127.7L568.9,131.2L570.1,134.1L571.3,135.6L572.5,137.8L573.7,137.9L574.9,138.7L576.1,139.3L577.3,139.8L578.5,139.4L579.7,139.1L580.9,139.8L582.1,139.4L583.3,139.3L584.5,139.7L585.7,139.3L586.9,138.6L588.1,138.4L589.3,138.3L590.5,138.1L591.7,137.7L592.9,137.3L594.1,137.4L595.3,137.8L596.5,137.3L597.7,137.3L598.9,136.5L600.1,135.6L601.3,135.4L602.5,134.2L603.7,134.0L604.9,133.7L606.1,133.6L607.3,133.3L608.5,132.8L609.7,132.4L610.9,131.8L612.1,132.4L613.3,133.4L614.5,133.8L615.7,133.6L616.9,134.0L618.1,135.2L619.3,136.0L620.5,136.4L621.7,137.6L622.9,137.9L624.1,138.2L625.3,138.0L626.5,138.3L627.7,138.4" fill="none" stroke="#000" stroke-width="1.7" stroke-linejoin="round"/>
<path d="M128.7,25 V340.7 H636.4" fill="none" stroke="#000" stroke-width="1.6"/>
<path d="M213.8,340.7 v7 M382.1,340.7 v7 M550.4,340.7 v7 M129.7,340.7 v3.5 M298.0,340.7 v3.5 M466.2,340.7 v3.5 M634.5,340.7 v3.5" stroke="#000" stroke-width="1.6"/>
<text x="213.8" y="380.0" font-size="35" text-anchor="middle" >2</text>
<text x="382.1" y="380.0" font-size="35" text-anchor="middle" >3</text>
<text x="550.4" y="380.0" font-size="35" text-anchor="middle" >4</text>
<text x="323.0" y="429.5" font-size="42" text-anchor="start" >q (Å<tspan font-size="29" dx="1" dy="-17">-1</tspan><tspan dx="3" dy="17">)</tspan></text>
<text transform="translate(94.5,327) rotate(-90)" x="0" y="0" font-size="41.5" text-anchor="start">Counts, ΔS (a.u.)</text>
<text x="2.5" y="66.5" font-size="48" text-anchor="start" >a</text>
<text x="222.0" y="45.8" font-size="42" text-anchor="start" >4.5 ML</text>
<rect x="264.80" y="315.4" width="13.61" height="12.6" fill="#8A00D4"/>
<rect x="278.11" y="315.4" width="13.61" height="12.6" fill="#0A72FF"/>
<rect x="291.43" y="315.4" width="13.61" height="12.6" fill="#00E040"/>
<rect x="304.74" y="315.4" width="13.61" height="12.6" fill="#C4F500"/>
<rect x="318.05" y="315.4" width="13.61" height="12.6" fill="#FF9F00"/>
<rect x="331.36" y="315.4" width="13.61" height="12.6" fill="#FF0000"/>
<rect x="344.68" y="315.4" width="13.61" height="12.6" fill="#EE0000"/>
<rect x="357.99" y="315.4" width="13.61" height="12.6" fill="#8E0000"/>
<text x="135.5" y="329.5" font-size="33" text-anchor="start" >3.2<tspan font-size="27" dx="1.2">×</tspan><tspan dx="1.6">10</tspan><tspan font-size="24" dy="-13.5">12</tspan></text>
<text x="378.5" y="328.6" font-size="33" text-anchor="start" >2.4<tspan font-size="27" dx="1.2">×</tspan><tspan dx="1.6">10</tspan><tspan font-size="24" dy="-13.5">14</tspan><tspan dx="2" dy="13.5"> cm</tspan><tspan font-size="24" dx="1" dy="-13.5">-2</tspan></text>
<text x="573.5" y="182.6" font-size="32.5" text-anchor="start" >ΔS=0</text>
<path d="M129.0,623.4L130.3,625.7L131.6,626.8L132.0,625.1L132.9,624.3L134.2,624.3L135.0,625.6L135.5,624.9L136.8,627.1L138.0,627.5L138.1,627.4L139.4,627.9L140.5,627.5L140.7,628.4L142.0,627.0L142.5,627.1L143.3,626.9L144.6,624.7L144.6,625.7L145.9,625.2L147.0,624.1L147.2,623.9L148.5,622.9L149.6,623.1L149.8,624.4L151.1,624.9L152.4,622.7L152.9,622.6L153.7,623.0L155.0,623.4L156.3,624.8L157.0,625.9L157.6,626.3L158.9,625.6L160.2,624.4L161.0,624.7L161.5,625.9L162.8,626.0L164.1,626.1L164.6,625.5L165.4,624.6L166.7,624.5L168.0,625.1L168.0,624.8L169.3,626.9L170.6,625.1L171.0,624.7L171.9,625.3L173.2,624.5L174.5,623.6L175.0,623.7L175.8,625.8L177.1,627.3L178.0,627.7L178.4,625.9L179.7,624.8L181.0,625.6L181.0,626.1L182.3,624.8L183.6,625.4L184.9,624.9L185.0,626.1L186.2,625.8L187.5,625.8L188.0,625.1L188.8,624.3L190.1,622.8L191.0,623.3L191.4,623.6L192.7,626.4L194.0,625.7L195.3,624.3L196.6,623.0L197.8,623.8L197.9,624.1L199.2,624.0L200.5,624.5L201.8,625.9L202.0,625.2L203.1,625.6L204.4,625.4L205.7,626.4L206.0,626.1L207.0,625.0L208.3,625.8L209.6,625.6L210.9,627.6L211.0,626.7L212.2,624.3L213.0,622.8L213.5,623.8L214.4,624.6L214.8,625.4L216.1,623.4L216.5,623.0L217.4,624.4L218.6,625.4L218.7,625.9L220.0,625.0L221.0,624.6L221.3,623.6L222.6,626.4L223.9,627.1L224.4,625.8L225.2,625.1L226.5,624.0L226.5,623.1L227.8,625.2L228.5,625.2L229.1,625.4L230.4,624.7L231.7,626.2L233.0,626.7L234.3,625.5L235.6,624.9L236.0,623.8L236.9,623.8L238.2,622.7L239.5,624.4L240.8,626.0L242.1,626.0L243.4,627.5L244.7,627.4L246.0,627.2L247.3,623.6L248.0,623.8L248.6,624.3L249.9,624.5L251.2,625.6L252.5,626.3L253.8,626.6L255.1,625.7L256.4,624.2L257.7,623.5L259.0,625.5L260.0,624.8L260.3,625.8L261.6,626.4L262.9,626.9L264.2,625.7L265.5,622.4L266.8,625.9L268.1,627.0L269.4,626.1L270.7,625.4L272.0,624.2L273.3,626.1L274.6,626.1L275.9,626.0L277.2,623.7L278.5,623.3L279.8,622.8L280.0,622.7L281.1,624.4L282.4,624.6L283.7,624.6L285.0,624.5L286.3,623.8L287.6,623.1L288.9,624.8L290.2,626.0L291.5,625.0L292.8,625.7L294.1,625.9L295.4,625.6L296.7,625.8L298.0,624.0L299.3,626.3L300.0,626.3L300.6,627.1L301.9,625.4L303.2,624.4L304.5,624.6L305.8,625.8L307.1,626.6L308.4,626.3L309.7,626.5L311.0,626.3L312.3,626.5L313.6,626.6L314.9,626.9L316.2,624.8L317.5,625.9L318.8,626.7L320.0,626.6L320.1,626.8L321.4,626.1L322.7,625.5L324.0,626.3L325.3,627.5L326.6,626.3L327.9,625.3L329.2,625.8L330.5,626.5L331.8,626.5L333.1,626.7L334.4,626.1L335.7,625.6L337.0,626.1L338.3,625.6L339.6,627.2L340.9,626.0L341.0,625.0L342.2,624.3L343.5,624.0L344.8,626.1L346.1,623.3L347.0,622.6L347.4,623.3L348.7,624.4L350.0,624.3L351.3,625.6L351.7,625.4L352.6,625.6L353.9,624.9L355.2,623.6L355.4,623.4L356.5,625.2L357.3,625.2L357.8,627.1L359.1,624.7L360.2,623.7L360.4,624.1L361.7,624.9L363.0,627.3L363.0,627.0L364.3,627.1L365.6,626.4L365.8,627.1L366.9,626.7L368.0,625.8L368.2,624.7L369.5,625.5L370.5,625.4L370.8,625.6L372.1,626.9L373.0,627.3L373.4,628.2L374.7,628.7L375.2,628.2L376.0,627.4L377.3,627.2L378.6,626.3L379.0,625.8L379.9,626.0L381.2,623.5L382.5,623.6L382.8,625.0L383.8,625.9L385.1,624.8L386.4,622.0L387.7,622.6L389.0,622.9L390.3,622.9L390.3,624.1L391.6,624.2L392.9,626.4L394.2,624.7L395.5,622.4L396.8,623.8L398.1,624.1L399.4,624.6L399.7,624.4L400.7,624.2L402.0,623.6L403.3,623.3L404.6,623.6L405.9,625.7L407.2,625.8L408.5,624.8L409.0,625.3L409.8,625.2L411.1,626.7L412.4,626.3L413.7,624.4L415.0,624.6L416.0,623.4L416.3,624.2L417.6,623.7L418.9,624.0L420.2,623.1L421.5,622.5L422.3,623.6L422.8,624.1L424.1,625.0L425.4,623.0L426.1,623.3L426.7,622.1L428.0,622.3L429.3,624.4L430.6,626.4L430.8,626.7L431.9,625.9L433.2,625.5L434.5,625.6L434.6,625.5L435.8,626.5L437.1,625.5L438.4,622.9L438.4,623.0L439.7,623.7L441.0,627.0L442.1,625.7L442.3,626.9L443.6,625.7L444.9,625.1L445.9,625.5L446.2,625.8L447.5,627.2L448.8,626.6L449.0,627.6L450.1,627.8L451.4,626.8L451.6,625.7L452.7,626.0L454.0,625.9L454.0,625.5L455.3,627.1L456.3,627.7L456.6,627.4L457.9,626.7L459.2,625.9L460.5,627.7L461.8,627.2L461.9,627.3L463.1,626.0L464.4,625.0L465.7,625.0L467.0,626.3L468.3,624.3L469.5,623.1L469.6,623.7L470.9,624.2L472.2,627.3L473.5,627.1L474.8,626.8L476.1,627.7L477.4,625.8L478.7,623.2L480.0,623.2L480.8,622.4L481.3,623.2L482.6,625.0L483.9,625.1L485.2,623.3L486.5,625.2L487.8,626.1L489.1,623.5L490.0,622.9L490.4,623.1L491.7,623.9L493.0,623.4L494.3,624.3L495.6,621.8L496.9,623.6L498.2,625.3L499.5,624.3L500.8,623.8L502.1,624.7L503.4,627.2L504.7,625.0L506.0,623.6L507.3,624.5L508.6,623.5L509.9,623.9L510.0,623.9L511.2,622.0L512.5,623.1L513.8,623.7L515.1,624.7L516.4,626.9L517.7,625.2L519.0,624.4L520.3,624.3L521.6,625.0L522.9,626.9L524.2,624.4L525.5,624.4L526.8,627.1L528.1,625.1L529.4,624.7L530.7,624.5L532.0,623.6L533.3,623.3L534.6,623.2L535.9,623.6L537.2,624.9L538.5,625.4L539.8,624.8L541.1,625.2L542.4,625.9L543.7,624.8L545.0,622.4L546.3,625.0L546.5,626.3L547.6,625.7L548.9,625.8L550.2,625.7L550.9,624.7L551.5,623.2L552.8,622.2L553.2,623.4L554.1,622.3L554.3,624.0L555.4,622.7L556.5,624.3L556.7,624.3L558.0,625.6L558.7,627.4L559.3,627.6L560.6,628.3L560.9,628.0L561.9,625.9L562.0,624.8L563.0,624.7L563.2,624.6L564.3,623.3L564.5,623.7L565.8,624.9L567.1,625.3L567.6,625.1L568.4,625.1L569.7,624.5L570.9,625.5L571.0,624.5L572.3,624.7L573.6,624.6L574.9,626.3L576.2,626.7L577.5,625.2L578.8,624.8L579.8,625.3L580.1,626.5L581.4,626.0L582.7,624.9L584.0,623.8L585.3,623.9L586.6,624.7L587.9,625.2L589.2,625.9L590.5,625.8L591.8,626.6L593.1,626.9L594.4,627.7L595.7,627.1L597.0,624.4L598.3,623.7L599.6,624.2L600.9,623.7L602.2,623.0L603.5,623.9L604.8,625.4L606.1,626.3L607.4,624.9L608.7,626.1L610.0,625.3L611.3,624.7L612.6,622.6L613.0,623.2L613.9,623.2L615.2,622.1L616.5,623.4L617.8,624.1L619.1,623.2L620.4,623.3L621.7,626.4L621.9,625.7L623.0,626.6L624.3,623.8L625.6,623.4L626.3,624.5L626.9,624.5L628.2,626.1L629.5,627.4L630.8,627.0L632.1,625.2L633.0,624.0L633.4,624.5L634.7,625.9L636.0,626.8L636.0,626.9" fill="none" stroke="#8B00D4" stroke-width="1.6" stroke-linejoin="round"/>
<path d="M129.0,627.0L130.3,624.3L131.6,624.5L132.0,623.5L132.9,623.9L134.2,625.2L135.0,626.3L135.5,628.2L136.8,627.7L138.0,628.1L138.1,628.5L139.4,626.3L140.5,626.5L140.7,625.5L142.0,627.0L142.5,625.8L143.3,625.5L144.6,624.2L144.6,625.1L145.9,624.6L147.0,625.4L147.2,623.9L148.5,624.5L149.6,623.7L149.8,625.1L151.1,625.5L152.4,625.5L152.9,624.5L153.7,623.6L155.0,623.4L156.3,624.6L157.0,625.5L157.6,627.3L158.9,626.7L160.2,627.3L161.0,627.9L161.5,628.0L162.8,626.4L164.1,626.0L164.6,625.4L165.4,626.0L166.7,626.8L168.0,626.0L168.0,625.5L169.3,626.1L170.6,626.1L171.0,627.6L171.9,627.5L173.2,627.2L174.5,625.9L175.0,626.3L175.8,628.2L177.1,630.0L178.0,630.4L178.4,629.3L179.7,628.5L181.0,626.7L181.0,627.7L182.3,626.8L183.6,628.0L184.9,628.3L185.0,629.6L186.2,629.3L187.5,628.4L188.0,629.7L188.8,628.2L190.1,627.7L191.0,626.9L191.4,626.2L192.7,626.2L194.0,625.3L195.3,625.1L196.6,625.7L197.8,626.7L197.9,626.4L199.2,628.0L200.5,627.1L201.8,626.2L202.0,627.2L203.1,627.3L204.4,627.3L205.7,626.1L206.0,626.1L207.0,626.1L208.3,625.1L209.6,626.7L210.9,625.6L211.0,626.1L212.2,625.3L213.0,624.9L213.5,625.7L214.4,622.4L214.8,623.1L216.1,624.3L216.5,624.7L217.4,626.5L218.6,627.0L218.7,627.2L220.0,626.8L221.0,626.4L221.3,625.1L222.6,626.7L223.9,626.5L224.4,626.9L225.2,625.6L226.5,623.5L226.5,624.4L227.8,627.6L228.5,625.3L229.1,625.8L230.4,624.6L231.7,625.1L233.0,624.1L234.3,625.2L235.6,625.3L236.0,624.3L236.9,623.4L238.2,623.9L239.5,626.0L240.8,625.6L242.1,626.1L243.4,624.0L244.7,626.4L246.0,627.0L247.3,626.7L248.0,626.7L248.6,626.1L249.9,624.2L251.2,625.8L252.5,627.8L253.8,626.5L255.1,625.9L256.4,625.4L257.7,626.6L259.0,627.3L260.0,627.1L260.3,627.8L261.6,627.1L262.9,625.8L264.2,624.4L265.5,624.4L266.8,625.4L268.1,627.0L269.4,625.3L270.7,625.8L272.0,627.4L273.3,625.9L274.6,625.0L275.9,623.5L277.2,623.5L278.5,625.7L279.8,626.2L280.0,626.0L281.1,625.8L282.4,625.6L283.7,625.4L285.0,625.3L286.3,626.3L287.6,624.3L288.9,625.7L290.2,627.1L291.5,626.4L292.8,626.8L294.1,625.2L295.4,626.9L296.7,627.7L298.0,626.7L299.3,627.6L300.0,627.5L300.6,627.2L301.9,625.1L303.2,624.6L304.5,624.0L305.8,622.9L307.1,623.0L308.4,622.7L309.7,624.9L311.0,627.1L312.3,627.2L313.6,625.9L314.9,626.0L316.2,626.9L317.5,626.2L318.8,626.6L320.0,626.1L320.1,625.7L321.4,625.6L322.7,624.7L324.0,623.5L325.3,621.6L326.6,624.7L327.9,625.9L329.2,626.0L330.5,625.9L331.8,624.9L333.1,626.2L334.4,627.8L335.7,626.5L337.0,625.3L338.3,623.5L339.6,623.3L340.9,622.1L341.0,622.1L342.2,624.2L343.5,623.8L344.8,624.7L346.1,625.3L347.0,624.7L347.4,624.0L348.7,623.1L350.0,623.0L351.3,622.0L351.7,623.1L352.6,622.2L353.9,624.1L355.2,624.7L355.4,626.2L356.5,626.6L357.3,626.2L357.8,627.6L359.1,628.3L360.2,629.4L360.4,628.3L361.7,628.4L363.0,626.9L363.0,626.8L364.3,627.2L365.6,627.5L365.8,627.8L366.9,627.7L368.0,629.3L368.2,629.9L369.5,630.5L370.5,629.2L370.8,629.8L372.1,630.2L373.0,630.5L373.4,629.9L374.7,628.8L375.2,627.7L376.0,627.8L377.3,627.8L378.6,627.9L379.0,627.9L379.9,626.9L381.2,626.2L382.5,625.8L382.8,625.4L383.8,625.4L385.1,624.7L386.4,624.4L387.7,623.7L389.0,623.7L390.3,625.6L390.3,625.2L391.6,626.0L392.9,626.8L394.2,627.0L395.5,626.7L396.8,625.2L398.1,624.4L399.4,624.3L399.7,623.8L400.7,624.4L402.0,626.4L403.3,623.8L404.6,623.4L405.9,625.4L407.2,626.6L408.5,626.4L409.0,625.9L409.8,623.9L411.1,625.6L412.4,626.0L413.7,625.6L415.0,624.9L416.0,624.5L416.3,624.7L417.6,624.3L418.9,622.7L420.2,623.5L421.5,622.3L422.3,622.7L422.8,623.1L424.1,623.5L425.4,625.5L426.1,626.2L426.7,625.8L428.0,625.3L429.3,624.6L430.6,623.8L430.8,624.1L431.9,621.8L433.2,622.9L434.5,625.2L434.6,625.8L435.8,625.0L437.1,625.0L438.4,625.6L438.4,625.4L439.7,626.6L441.0,627.3L442.1,627.3L442.3,627.8L443.6,628.4L444.9,625.1L445.9,625.5L446.2,625.7L447.5,627.8L448.8,628.5L449.0,628.5L450.1,628.0L451.4,627.1L451.6,627.7L452.7,626.1L454.0,628.3L454.0,627.9L455.3,629.2L456.3,626.5L456.6,625.4L457.9,626.3L459.2,625.8L460.5,627.3L461.8,626.5L461.9,626.5L463.1,623.7L464.4,625.9L465.7,626.7L467.0,626.0L468.3,625.3L469.5,625.6L469.6,626.5L470.9,626.9L472.2,628.3L473.5,626.4L474.8,625.7L476.1,626.1L477.4,626.8L478.7,625.5L480.0,623.9L480.8,622.1L481.3,622.3L482.6,622.5L483.9,624.1L485.2,624.2L486.5,624.6L487.8,623.4L489.1,622.9L490.0,623.3L490.4,623.1L491.7,625.1L493.0,625.7L494.3,626.7L495.6,626.3L496.9,626.3L498.2,623.4L499.5,622.4L500.8,623.8L502.1,624.6L503.4,625.4L504.7,626.5L506.0,625.5L507.3,623.8L508.6,624.1L509.9,625.2L510.0,624.2L511.2,623.2L512.5,623.9L513.8,623.2L515.1,624.7L516.4,625.5L517.7,625.9L519.0,626.3L520.3,624.9L521.6,625.1L522.9,625.2L524.2,624.4L525.5,625.2L526.8,626.6L528.1,626.6L529.4,626.2L530.7,627.1L532.0,626.7L533.3,624.9L534.6,624.3L535.9,626.9L537.2,625.7L538.5,624.0L539.8,625.5L541.1,625.7L542.4,625.0L543.7,626.1L545.0,626.0L546.3,626.6L546.5,626.8L547.6,625.5L548.9,625.6L550.2,624.9L550.9,624.3L551.5,625.0L552.8,622.6L553.2,623.1L554.1,622.3L554.3,623.2L555.4,623.3L556.5,622.6L556.7,622.8L558.0,622.5L558.7,624.8L559.3,625.1L560.6,629.3L560.9,629.7L561.9,629.0L562.0,628.3L563.0,629.4L563.2,629.0L564.3,628.3L564.5,629.4L565.8,629.1L567.1,628.6L567.6,628.0L568.4,626.9L569.7,628.2L570.9,627.7L571.0,626.5L572.3,626.8L573.6,625.1L574.9,625.6L576.2,625.4L577.5,624.6L578.8,624.3L579.8,624.0L580.1,624.0L581.4,624.1L582.7,623.3L584.0,623.9L585.3,624.4L586.6,622.3L587.9,623.4L589.2,625.7L590.5,625.3L591.8,625.6L593.1,624.2L594.4,624.9L595.7,624.9L597.0,624.8L598.3,623.7L599.6,623.0L600.9,622.8L602.2,622.8L603.5,625.0L604.8,627.0L606.1,626.0L607.4,624.4L608.7,623.5L610.0,624.4L611.3,625.6L612.6,624.7L613.0,624.7L613.9,624.9L615.2,627.1L616.5,624.8L617.8,624.2L619.1,625.2L620.4,624.7L621.7,622.9L621.9,624.0L623.0,625.5L624.3,627.2L625.6,627.1L626.3,625.2L626.9,626.1L628.2,623.1L629.5,626.4L630.8,627.3L632.1,623.8L633.0,624.2L633.4,624.0L634.7,625.6L636.0,625.8L636.0,626.1" fill="none" stroke="#1E8FFF" stroke-width="1.6" stroke-linejoin="round"/>
<path d="M129.0,627.0L130.3,626.2L131.6,626.8L132.0,625.9L132.9,626.4L134.2,626.9L135.0,628.7L135.5,629.1L136.8,629.3L138.0,631.3L138.1,630.2L139.4,630.9L140.5,630.7L140.7,629.7L142.0,629.4L142.5,629.5L143.3,627.7L144.6,626.9L144.6,627.0L145.9,625.8L147.0,626.2L147.2,626.4L148.5,623.1L149.6,622.7L149.8,622.5L151.1,623.9L152.4,624.8L152.9,624.7L153.7,625.6L155.0,623.1L156.3,624.4L157.0,626.6L157.6,626.7L158.9,625.3L160.2,627.6L161.0,628.8L161.5,629.8L162.8,632.2L164.1,630.6L164.6,630.9L165.4,631.3L166.7,632.4L168.0,631.7L168.0,631.3L169.3,631.1L170.6,631.5L171.0,631.7L171.9,631.9L173.2,632.5L174.5,632.9L175.0,633.7L175.8,633.6L177.1,634.4L178.0,635.1L178.4,635.7L179.7,637.3L181.0,637.6L181.0,637.7L182.3,636.4L183.6,633.9L184.9,634.4L185.0,634.6L186.2,635.0L187.5,633.1L188.0,632.5L188.8,632.6L190.1,631.7L191.0,630.4L191.4,630.4L192.7,628.2L194.0,629.3L195.3,629.9L196.6,628.0L197.8,627.2L197.9,626.3L199.2,626.0L200.5,626.6L201.8,627.6L202.0,627.3L203.1,629.2L204.4,627.9L205.7,627.3L206.0,626.4L207.0,624.5L208.3,624.6L209.6,623.7L210.9,624.8L211.0,623.7L212.2,624.1L213.0,623.1L213.5,623.0L214.4,621.4L214.8,622.6L216.1,623.7L216.5,623.4L217.4,626.4L218.6,628.6L218.7,627.6L220.0,627.2L221.0,626.2L221.3,627.3L222.6,628.7L223.9,628.9L224.4,630.3L225.2,629.6L226.5,629.2L226.5,629.3L227.8,626.2L228.5,625.1L229.1,624.6L230.4,623.8L231.7,624.4L233.0,625.6L234.3,626.9L235.6,627.9L236.0,628.3L236.9,626.9L238.2,625.7L239.5,626.1L240.8,627.7L242.1,627.5L243.4,626.9L244.7,627.6L246.0,626.4L247.3,626.2L248.0,625.2L248.6,626.4L249.9,627.4L251.2,626.9L252.5,626.5L253.8,627.5L255.1,626.8L256.4,627.7L257.7,626.3L259.0,624.9L260.0,624.2L260.3,625.1L261.6,625.4L262.9,624.8L264.2,624.4L265.5,623.7L266.8,624.5L268.1,625.2L269.4,626.1L270.7,625.8L272.0,624.7L273.3,624.7L274.6,623.9L275.9,625.2L277.2,625.8L278.5,626.6L279.8,625.2L280.0,625.6L281.1,623.3L282.4,624.4L283.7,625.2L285.0,623.1L286.3,624.7L287.6,625.7L288.9,626.3L290.2,626.3L291.5,626.3L292.8,624.3L294.1,624.0L295.4,623.7L296.7,624.2L298.0,625.2L299.3,624.9L300.0,624.7L300.6,624.9L301.9,625.3L303.2,624.0L304.5,622.8L305.8,623.4L307.1,622.5L308.4,623.1L309.7,624.9L311.0,623.2L312.3,623.8L313.6,624.9L314.9,626.2L316.2,625.3L317.5,626.6L318.8,625.9L320.0,623.8L320.1,623.7L321.4,622.6L322.7,623.5L324.0,627.2L325.3,626.1L326.6,626.7L327.9,626.8L329.2,626.0L330.5,624.2L331.8,625.0L333.1,624.5L334.4,624.9L335.7,625.6L337.0,624.0L338.3,623.9L339.6,622.5L340.9,623.9L341.0,623.3L342.2,624.6L343.5,625.1L344.8,626.1L346.1,625.3L347.0,624.5L347.4,625.2L348.7,623.7L350.0,623.5L351.3,622.9L351.7,621.7L352.6,622.4L353.9,621.0L355.2,623.9L355.4,623.0L356.5,625.0L357.3,626.0L357.8,625.2L359.1,628.0L360.2,628.0L360.4,628.5L361.7,628.6L363.0,628.4L363.0,629.3L364.3,628.8L365.6,630.2L365.8,630.7L366.9,630.6L368.0,631.5L368.2,631.4L369.5,632.0L370.5,631.2L370.8,629.8L372.1,630.5L373.0,632.3L373.4,631.8L374.7,628.4L375.2,628.5L376.0,627.9L377.3,628.3L378.6,628.1L379.0,627.8L379.9,629.4L381.2,628.2L382.5,627.0L382.8,626.4L383.8,627.4L385.1,626.6L386.4,628.1L387.7,625.4L389.0,626.6L390.3,627.1L390.3,627.4L391.6,626.1L392.9,624.6L394.2,625.5L395.5,625.2L396.8,626.1L398.1,627.5L399.4,621.7L399.7,622.4L400.7,624.6L402.0,624.8L403.3,625.8L404.6,625.2L405.9,624.2L407.2,623.2L408.5,624.2L409.0,623.5L409.8,624.0L411.1,624.8L412.4,625.3L413.7,625.0L415.0,624.8L416.0,625.5L416.3,625.9L417.6,625.4L418.9,623.8L420.2,622.7L421.5,622.7L422.3,623.4L422.8,624.4L424.1,626.8L425.4,624.7L426.1,624.8L426.7,625.0L428.0,625.6L429.3,622.8L430.6,621.3L430.8,621.3L431.9,622.9L433.2,621.8L434.5,620.0L434.6,621.4L435.8,622.2L437.1,622.6L438.4,622.2L438.4,622.8L439.7,622.1L441.0,624.6L442.1,627.0L442.3,626.9L443.6,626.6L444.9,628.4L445.9,630.2L446.2,629.3L447.5,627.3L448.8,629.2L449.0,629.9L450.1,632.0L451.4,631.9L451.6,631.7L452.7,629.5L454.0,628.2L454.0,628.5L455.3,628.5L456.3,628.5L456.6,627.6L457.9,628.7L459.2,629.3L460.5,628.8L461.8,628.1L461.9,628.0L463.1,627.4L464.4,625.4L465.7,625.3L467.0,627.7L468.3,628.0L469.5,627.9L469.6,628.2L470.9,626.1L472.2,626.2L473.5,623.6L474.8,624.5L476.1,623.6L477.4,624.9L478.7,624.0L480.0,624.6L480.8,625.0L481.3,625.3L482.6,625.7L483.9,626.9L485.2,626.6L486.5,626.6L487.8,627.5L489.1,625.6L490.0,624.9L490.4,626.2L491.7,624.4L493.0,622.6L494.3,624.4L495.6,625.1L496.9,625.9L498.2,624.9L499.5,625.7L500.8,625.8L502.1,624.6L503.4,624.7L504.7,624.9L506.0,624.8L507.3,623.4L508.6,623.3L509.9,623.7L510.0,624.2L511.2,626.5L512.5,627.7L513.8,626.7L515.1,625.7L516.4,623.6L517.7,625.0L519.0,625.9L520.3,625.8L521.6,625.4L522.9,623.0L524.2,625.0L525.5,625.3L526.8,623.5L528.1,622.5L529.4,622.9L530.7,623.8L532.0,624.5L533.3,625.3L534.6,625.4L535.9,624.2L537.2,624.3L538.5,624.1L539.8,624.9L541.1,625.6L542.4,625.5L543.7,624.0L545.0,623.2L546.3,625.0L546.5,624.1L547.6,625.4L548.9,624.8L550.2,624.1L550.9,624.5L551.5,624.5L552.8,621.3L553.2,621.0L554.1,619.3L554.3,618.7L555.4,621.2L556.5,620.1L556.7,620.7L558.0,621.5L558.7,623.3L559.3,624.4L560.6,628.8L560.9,630.2L561.9,632.9L562.0,634.0L563.0,631.9L563.2,632.3L564.3,628.8L564.5,629.4L565.8,626.4L567.1,625.2L567.6,625.3L568.4,624.0L569.7,623.8L570.9,625.1L571.0,624.0L572.3,624.3L573.6,623.4L574.9,623.6L576.2,623.7L577.5,624.0L578.8,625.8L579.8,626.4L580.1,626.7L581.4,624.4L582.7,624.5L584.0,626.9L585.3,626.6L586.6,625.2L587.9,623.2L589.2,623.7L590.5,622.4L591.8,623.6L593.1,626.0L594.4,625.1L595.7,623.9L597.0,622.4L598.3,624.0L599.6,625.2L600.9,624.7L602.2,623.4L603.5,625.6L604.8,625.4L606.1,623.8L607.4,622.4L608.7,622.5L610.0,623.1L611.3,624.0L612.6,623.0L613.0,624.1L613.9,623.9L615.2,625.1L616.5,626.0L617.8,626.8L619.1,626.0L620.4,626.1L621.7,625.6L621.9,626.1L623.0,624.4L624.3,624.8L625.6,626.8L626.3,628.0L626.9,628.8L628.2,627.6L629.5,625.9L630.8,624.7L632.1,626.4L633.0,625.8L633.4,624.7L634.7,623.0L636.0,624.6L636.0,623.6" fill="none" stroke="#40DD20" stroke-width="1.6" stroke-linejoin="round"/>
<path d="M129.0,631.9L130.3,633.1L131.6,633.6L132.0,633.7L132.9,633.3L134.2,632.2L135.0,632.9L135.5,632.9L136.8,634.8L138.0,635.8L138.1,636.2L139.4,638.3L140.5,639.5L140.7,639.5L142.0,636.9L142.5,635.8L143.3,635.2L144.6,631.9L144.6,632.7L145.9,629.8L147.0,628.3L147.2,627.5L148.5,623.2L149.6,623.6L149.8,623.6L151.1,624.8L152.4,623.1L152.9,622.0L153.7,620.4L155.0,623.0L156.3,624.5L157.0,623.9L157.6,625.5L158.9,628.8L160.2,631.1L161.0,631.6L161.5,632.6L162.8,635.5L164.1,638.6L164.6,639.6L165.4,640.8L166.7,642.3L168.0,641.7L168.0,642.3L169.3,641.6L170.6,641.6L171.0,641.0L171.9,641.7L173.2,643.7L174.5,645.2L175.0,646.3L175.8,646.3L177.1,646.5L178.0,646.7L178.4,646.8L179.7,645.9L181.0,646.8L181.0,646.4L182.3,646.0L183.6,647.0L184.9,645.9L185.0,645.3L186.2,642.1L187.5,641.0L188.0,640.9L188.8,639.2L190.1,637.4L191.0,636.3L191.4,636.3L192.7,636.1L194.0,635.7L195.3,633.4L196.6,632.1L197.8,632.8L197.9,633.3L199.2,634.0L200.5,632.2L201.8,631.6L202.0,631.6L203.1,628.9L204.4,628.0L205.7,629.6L206.0,629.5L207.0,628.3L208.3,627.7L209.6,627.4L210.9,628.2L211.0,627.0L212.2,621.6L213.0,619.5L213.5,618.7L214.4,616.6L214.8,618.7L216.1,623.7L216.5,626.6L217.4,631.8L218.6,637.2L218.7,636.6L220.0,630.7L221.0,626.9L221.3,628.4L222.6,632.0L223.9,635.8L224.4,637.0L225.2,635.1L226.5,631.0L226.5,630.1L227.8,624.8L228.5,624.8L229.1,624.0L230.4,625.5L231.7,626.1L233.0,626.8L234.3,627.1L235.6,627.6L236.0,627.1L236.9,627.6L238.2,625.2L239.5,624.3L240.8,625.9L242.1,627.6L243.4,628.1L244.7,626.9L246.0,626.0L247.3,626.6L248.0,628.0L248.6,627.8L249.9,626.8L251.2,627.0L252.5,627.6L253.8,627.7L255.1,627.8L256.4,626.2L257.7,628.3L259.0,629.3L260.0,627.6L260.3,627.9L261.6,626.8L262.9,628.6L264.2,628.1L265.5,627.0L266.8,626.2L268.1,625.7L269.4,625.8L270.7,626.0L272.0,627.1L273.3,624.4L274.6,623.1L275.9,622.8L277.2,622.7L278.5,625.3L279.8,625.4L280.0,625.8L281.1,626.1L282.4,625.6L283.7,623.2L285.0,622.5L286.3,625.0L287.6,626.6L288.9,627.1L290.2,625.0L291.5,623.4L292.8,622.8L294.1,625.0L295.4,626.0L296.7,626.3L298.0,625.5L299.3,625.1L300.0,625.3L300.6,626.4L301.9,625.4L303.2,624.3L304.5,623.4L305.8,623.2L307.1,621.7L308.4,623.9L309.7,624.6L311.0,626.1L312.3,624.7L313.6,623.6L314.9,622.6L316.2,623.4L317.5,625.4L318.8,626.3L320.0,623.1L320.1,623.4L321.4,624.4L322.7,626.4L324.0,626.2L325.3,625.9L326.6,625.5L327.9,625.1L329.2,625.2L330.5,625.5L331.8,624.6L333.1,625.3L334.4,624.9L335.7,624.1L337.0,623.6L338.3,624.9L339.6,626.0L340.9,626.6L341.0,625.6L342.2,625.0L343.5,624.4L344.8,625.2L346.1,623.8L347.0,622.8L347.4,621.6L348.7,621.8L350.0,621.8L351.3,621.8L351.7,621.3L352.6,622.1L353.9,622.9L355.2,621.8L355.4,622.7L356.5,624.3L357.3,626.7L357.8,627.6L359.1,628.6L360.2,630.2L360.4,630.9L361.7,632.1L363.0,633.7L363.0,633.5L364.3,635.4L365.6,635.4L365.8,635.0L366.9,635.9L368.0,636.4L368.2,636.1L369.5,636.7L370.5,635.6L370.8,635.6L372.1,636.6L373.0,637.8L373.4,636.6L374.7,634.6L375.2,634.4L376.0,633.5L377.3,633.1L378.6,629.9L379.0,629.9L379.9,627.9L381.2,628.2L382.5,626.5L382.8,626.9L383.8,626.6L385.1,626.9L386.4,625.5L387.7,626.3L389.0,627.0L390.3,626.6L390.3,626.4L391.6,625.9L392.9,623.9L394.2,625.6L395.5,625.8L396.8,624.3L398.1,625.2L399.4,624.4L399.7,624.8L400.7,623.9L402.0,623.4L403.3,624.3L404.6,625.3L405.9,623.3L407.2,624.6L408.5,624.6L409.0,624.2L409.8,624.7L411.1,623.1L412.4,624.7L413.7,625.7L415.0,625.0L416.0,625.2L416.3,626.2L417.6,626.6L418.9,622.9L420.2,623.6L421.5,623.3L422.3,623.2L422.8,623.9L424.1,624.8L425.4,625.5L426.1,624.4L426.7,625.5L428.0,624.5L429.3,624.4L430.6,624.1L430.8,622.7L431.9,620.8L433.2,618.8L434.5,619.1L434.6,619.7L435.8,620.7L437.1,621.6L438.4,622.3L438.4,622.1L439.7,622.9L441.0,625.1L442.1,624.8L442.3,625.5L443.6,627.0L444.9,629.0L445.9,631.2L446.2,632.6L447.5,634.0L448.8,636.1L449.0,634.8L450.1,635.7L451.4,637.6L451.6,638.2L452.7,636.4L454.0,634.9L454.0,635.5L455.3,633.5L456.3,632.1L456.6,633.1L457.9,630.7L459.2,630.6L460.5,628.5L461.8,626.9L461.9,625.5L463.1,625.8L464.4,626.2L465.7,628.5L467.0,628.0L468.3,628.0L469.5,624.7L469.6,625.3L470.9,624.7L472.2,624.6L473.5,624.1L474.8,625.0L476.1,627.6L477.4,627.1L478.7,625.9L480.0,626.2L480.8,627.5L481.3,628.0L482.6,626.4L483.9,626.2L485.2,626.1L486.5,625.4L487.8,623.3L489.1,623.6L490.0,623.1L490.4,623.9L491.7,623.0L493.0,624.0L494.3,625.5L495.6,623.6L496.9,624.0L498.2,623.1L499.5,623.4L500.8,623.5L502.1,624.2L503.4,623.9L504.7,626.0L506.0,625.3L507.3,624.9L508.6,624.9L509.9,622.7L510.0,623.9L511.2,624.1L512.5,625.0L513.8,625.2L515.1,626.4L516.4,625.6L517.7,624.9L519.0,622.1L520.3,623.2L521.6,622.9L522.9,622.6L524.2,622.2L525.5,623.5L526.8,624.8L528.1,623.5L529.4,622.8L530.7,625.6L532.0,625.0L533.3,623.7L534.6,624.0L535.9,624.2L537.2,624.3L538.5,624.0L539.8,625.2L541.1,626.2L542.4,626.0L543.7,626.1L545.0,625.1L546.3,625.7L546.5,625.6L547.6,625.6L548.9,626.1L550.2,625.0L550.9,624.7L551.5,623.9L552.8,618.8L553.2,616.9L554.1,615.3L554.3,615.6L555.4,617.0L556.5,618.5L556.7,619.2L558.0,624.1L558.7,624.8L559.3,626.4L560.6,634.0L560.9,636.3L561.9,640.1L562.0,641.5L563.0,638.9L563.2,638.4L564.3,635.2L564.5,634.6L565.8,631.9L567.1,628.5L567.6,628.2L568.4,628.1L569.7,628.5L570.9,628.3L571.0,627.9L572.3,627.0L573.6,626.8L574.9,625.0L576.2,624.8L577.5,625.6L578.8,626.7L579.8,626.7L580.1,626.8L581.4,625.2L582.7,624.4L584.0,626.0L585.3,624.4L586.6,622.5L587.9,623.4L589.2,625.0L590.5,624.3L591.8,625.2L593.1,625.7L594.4,624.7L595.7,622.7L597.0,622.6L598.3,623.6L599.6,624.1L600.9,625.2L602.2,626.3L603.5,627.5L604.8,627.5L606.1,626.6L607.4,626.5L608.7,625.9L610.0,624.9L611.3,624.3L612.6,627.3L613.0,626.9L613.9,625.4L615.2,625.7L616.5,627.0L617.8,625.6L619.1,623.3L620.4,625.7L621.7,627.7L621.9,627.1L623.0,626.2L624.3,626.1L625.6,625.3L626.3,626.7L626.9,627.4L628.2,628.1L629.5,628.4L630.8,627.7L632.1,628.0L633.0,629.0L633.4,628.5L634.7,627.7L636.0,625.3L636.0,625.2" fill="none" stroke="#F8F000" stroke-width="1.6" stroke-linejoin="round"/>
<path d="M129.0,633.1L130.3,633.9L131.6,633.9L132.0,634.8L132.9,636.7L134.2,637.4L135.0,637.2L135.5,638.7L136.8,638.4L138.0,639.3L138.1,639.7L139.4,644.1L140.5,647.8L140.7,647.2L142.0,643.3L142.5,641.5L143.3,639.1L144.6,634.0L144.6,634.3L145.9,629.8L147.0,624.8L147.2,624.4L148.5,621.5L149.6,620.0L149.8,621.0L151.1,620.9L152.4,619.8L152.9,620.2L153.7,621.2L155.0,622.3L156.3,625.1L157.0,625.9L157.6,625.7L158.9,631.7L160.2,635.5L161.0,637.6L161.5,637.8L162.8,641.5L164.1,646.7L164.6,648.0L165.4,648.7L166.7,651.1L168.0,652.6L168.0,651.8L169.3,651.8L170.6,651.5L171.0,651.6L171.9,652.7L173.2,654.0L174.5,655.4L175.0,654.9L175.8,655.9L177.1,657.9L178.0,658.2L178.4,657.3L179.7,656.9L181.0,658.3L181.0,658.8L182.3,658.6L183.6,657.0L184.9,656.5L185.0,656.5L186.2,654.0L187.5,651.8L188.0,650.8L188.8,648.4L190.1,645.7L191.0,644.6L191.4,643.0L192.7,640.8L194.0,639.7L195.3,639.2L196.6,635.8L197.8,634.2L197.9,635.5L199.2,633.8L200.5,633.8L201.8,633.4L202.0,632.8L203.1,631.4L204.4,631.4L205.7,631.9L206.0,631.2L207.0,628.8L208.3,626.8L209.6,628.3L210.9,628.8L211.0,629.2L212.2,621.4L213.0,617.4L213.5,616.3L214.4,612.6L214.8,615.0L216.1,621.0L216.5,623.6L217.4,631.8L218.6,641.9L218.7,641.2L220.0,634.0L221.0,630.6L221.3,631.7L222.6,638.0L223.9,643.1L224.4,645.2L225.2,640.4L226.5,633.6L226.5,633.7L227.8,626.7L228.5,625.3L229.1,627.2L230.4,626.5L231.7,625.9L233.0,626.1L234.3,628.2L235.6,627.2L236.0,625.5L236.9,625.5L238.2,627.9L239.5,628.9L240.8,629.7L242.1,629.7L243.4,630.2L244.7,628.5L246.0,626.5L247.3,628.4L248.0,629.9L248.6,629.4L249.9,627.4L251.2,625.1L252.5,625.7L253.8,625.9L255.1,625.2L256.4,625.4L257.7,626.9L259.0,628.7L260.0,628.3L260.3,627.1L261.6,625.6L262.9,626.2L264.2,624.5L265.5,625.4L266.8,625.8L268.1,625.7L269.4,625.0L270.7,626.9L272.0,625.8L273.3,626.4L274.6,625.9L275.9,622.3L277.2,624.6L278.5,624.7L279.8,622.7L280.0,624.1L281.1,622.8L282.4,624.2L283.7,623.5L285.0,623.5L286.3,623.2L287.6,624.7L288.9,623.0L290.2,623.1L291.5,622.7L292.8,623.9L294.1,623.4L295.4,625.0L296.7,626.9L298.0,626.9L299.3,625.2L300.0,626.1L300.6,625.8L301.9,623.3L303.2,621.6L304.5,621.9L305.8,624.3L307.1,623.9L308.4,626.2L309.7,626.2L311.0,625.3L312.3,623.7L313.6,627.2L314.9,626.5L316.2,626.5L317.5,626.0L318.8,625.1L320.0,626.1L320.1,625.6L321.4,625.6L322.7,621.8L324.0,620.8L325.3,621.1L326.6,623.5L327.9,623.0L329.2,625.5L330.5,623.8L331.8,622.9L333.1,623.6L334.4,624.1L335.7,622.9L337.0,623.6L338.3,621.3L339.6,623.1L340.9,622.7L341.0,624.4L342.2,622.3L343.5,620.9L344.8,621.3L346.1,622.7L347.0,623.3L347.4,622.9L348.7,619.8L350.0,619.4L351.3,617.6L351.7,616.9L352.6,618.1L353.9,618.7L355.2,617.4L355.4,618.7L356.5,622.1L357.3,627.7L357.8,630.5L359.1,633.7L360.2,635.5L360.4,635.2L361.7,635.6L363.0,638.9L363.0,638.6L364.3,640.2L365.6,640.5L365.8,639.9L366.9,641.8L368.0,642.7L368.2,643.4L369.5,644.3L370.5,648.5L370.8,647.3L372.1,644.9L373.0,643.2L373.4,641.2L374.7,640.0L375.2,641.0L376.0,638.7L377.3,637.4L378.6,635.0L379.0,634.0L379.9,632.7L381.2,632.3L382.5,631.1L382.8,629.9L383.8,630.2L385.1,627.6L386.4,627.5L387.7,628.4L389.0,627.8L390.3,625.4L390.3,626.6L391.6,623.9L392.9,624.2L394.2,624.8L395.5,626.6L396.8,625.7L398.1,626.2L399.4,626.3L399.7,624.8L400.7,625.5L402.0,623.2L403.3,623.5L404.6,624.3L405.9,625.1L407.2,623.4L408.5,621.7L409.0,622.8L409.8,621.6L411.1,621.5L412.4,620.1L413.7,622.4L415.0,624.7L416.0,622.7L416.3,623.0L417.6,622.4L418.9,622.2L420.2,622.3L421.5,623.4L422.3,623.2L422.8,623.5L424.1,622.6L425.4,626.9L426.1,627.2L426.7,624.8L428.0,620.2L429.3,619.1L430.6,618.1L430.8,617.8L431.9,619.3L433.2,616.6L434.5,614.0L434.6,613.2L435.8,615.1L437.1,615.6L438.4,618.4L438.4,618.2L439.7,619.6L441.0,621.3L442.1,625.7L442.3,625.6L443.6,629.9L444.9,634.8L445.9,637.4L446.2,638.1L447.5,638.1L448.8,640.6L449.0,641.2L450.1,644.5L451.4,645.8L451.6,646.8L452.7,644.1L454.0,641.6L454.0,640.9L455.3,639.3L456.3,635.8L456.6,636.7L457.9,635.6L459.2,633.7L460.5,633.3L461.8,629.8L461.9,629.7L463.1,629.3L464.4,627.1L465.7,625.3L467.0,624.7L468.3,624.7L469.5,624.9L469.6,625.5L470.9,625.2L472.2,626.6L473.5,626.0L474.8,624.4L476.1,623.2L477.4,624.6L478.7,626.8L480.0,626.1L480.8,623.1L481.3,624.9L482.6,623.4L483.9,623.8L485.2,623.1L486.5,622.9L487.8,624.6L489.1,623.9L490.0,623.1L490.4,623.2L491.7,625.2L493.0,626.1L494.3,624.5L495.6,624.7L496.9,625.9L498.2,622.9L499.5,622.4L500.8,625.8L502.1,626.4L503.4,626.7L504.7,625.8L506.0,623.6L507.3,622.4L508.6,623.3L509.9,623.0L510.0,624.1L511.2,625.8L512.5,625.8L513.8,624.8L515.1,624.0L516.4,623.7L517.7,624.3L519.0,624.3L520.3,622.2L521.6,622.1L522.9,624.2L524.2,622.5L525.5,623.1L526.8,626.2L528.1,626.1L529.4,625.1L530.7,621.8L532.0,622.1L533.3,622.8L534.6,624.1L535.9,624.1L537.2,623.4L538.5,623.3L539.8,623.1L541.1,624.4L542.4,622.3L543.7,622.4L545.0,622.6L546.3,624.6L546.5,625.1L547.6,622.5L548.9,620.5L550.2,620.8L550.9,618.8L551.5,616.8L552.8,614.2L553.2,611.9L554.1,611.3L554.3,610.0L555.4,613.9L556.5,615.9L556.7,616.6L558.0,621.0L558.7,624.2L559.3,630.0L560.6,643.6L560.9,645.7L561.9,653.2L562.0,652.9L563.0,648.5L563.2,647.3L564.3,639.6L564.5,639.1L565.8,634.1L567.1,629.9L567.6,627.8L568.4,629.1L569.7,628.9L570.9,625.0L571.0,623.3L572.3,625.2L573.6,626.0L574.9,627.3L576.2,624.5L577.5,623.2L578.8,621.7L579.8,623.0L580.1,623.4L581.4,626.0L582.7,625.5L584.0,624.3L585.3,624.0L586.6,623.8L587.9,623.7L589.2,623.8L590.5,622.2L591.8,623.5L593.1,624.3L594.4,627.1L595.7,626.9L597.0,627.6L598.3,626.6L599.6,624.7L600.9,624.8L602.2,626.0L603.5,626.0L604.8,625.9L606.1,624.7L607.4,626.2L608.7,626.6L610.0,625.1L611.3,624.7L612.6,623.7L613.0,623.8L613.9,623.1L615.2,623.9L616.5,625.3L617.8,626.3L619.1,625.8L620.4,627.4L621.7,626.9L621.9,627.2L623.0,627.7L624.3,627.6L625.6,629.9L626.3,630.5L626.9,631.3L628.2,629.1L629.5,628.3L630.8,629.1L632.1,629.7L633.0,630.3L633.4,628.0L634.7,624.2L636.0,625.1L636.0,624.4" fill="none" stroke="#FF4000" stroke-width="1.8" stroke-linejoin="round"/>
<path d="M129.0,639.5L130.3,641.3L131.6,642.2L132.0,642.6L132.9,641.6L134.2,641.3L135.0,641.9L135.5,643.2L136.8,648.1L138.0,650.6L138.1,651.8L139.4,654.9L140.5,658.5L140.7,657.8L142.0,655.4L142.5,652.6L143.3,648.5L144.6,641.6L144.6,642.9L145.9,633.7L147.0,628.0L147.2,627.8L148.5,625.6L149.6,624.0L149.8,623.3L151.1,622.3L152.4,619.8L152.9,617.5L153.7,620.5L155.0,625.8L156.3,628.8L157.0,630.0L157.6,631.1L158.9,636.9L160.2,640.4L161.0,645.2L161.5,646.7L162.8,653.2L164.1,659.3L164.6,662.0L165.4,663.1L166.7,665.3L168.0,667.4L168.0,666.8L169.3,667.8L170.6,668.5L171.0,668.6L171.9,669.7L173.2,671.5L174.5,673.6L175.0,673.5L175.8,674.9L177.1,676.2L178.0,676.8L178.4,677.9L179.7,677.8L181.0,679.9L181.0,679.1L182.3,679.0L183.6,678.4L184.9,676.8L185.0,676.5L186.2,671.9L187.5,667.3L188.0,666.3L188.8,663.1L190.1,657.9L191.0,654.9L191.4,655.5L192.7,653.9L194.0,649.8L195.3,647.1L196.6,646.7L197.8,644.4L197.9,644.5L199.2,643.6L200.5,638.8L201.8,638.1L202.0,637.2L203.1,638.0L204.4,636.2L205.7,633.5L206.0,633.0L207.0,632.4L208.3,629.8L209.6,629.0L210.9,628.3L211.0,627.0L212.2,620.4L213.0,614.1L213.5,610.0L214.4,603.0L214.8,607.0L216.1,618.8L216.5,622.7L217.4,636.8L218.6,654.3L218.7,653.4L220.0,644.1L221.0,636.6L221.3,639.6L222.6,645.9L223.9,654.3L224.4,657.6L225.2,650.3L226.5,639.9L226.5,638.5L227.8,633.7L228.5,627.5L229.1,625.9L230.4,626.6L231.7,626.3L233.0,627.7L234.3,628.7L235.6,629.5L236.0,628.2L236.9,628.6L238.2,629.3L239.5,633.0L240.8,631.7L242.1,629.7L243.4,628.0L244.7,629.3L246.0,629.5L247.3,627.1L248.0,627.7L248.6,627.6L249.9,628.1L251.2,631.0L252.5,632.2L253.8,630.1L255.1,628.9L256.4,629.1L257.7,628.1L259.0,628.9L260.0,627.1L260.3,626.1L261.6,627.5L262.9,629.2L264.2,627.8L265.5,627.7L266.8,626.6L268.1,624.6L269.4,624.6L270.7,626.3L272.0,626.9L273.3,625.7L274.6,625.0L275.9,622.3L277.2,623.6L278.5,626.1L279.8,624.5L280.0,624.6L281.1,624.0L282.4,623.4L283.7,623.3L285.0,627.3L286.3,627.6L287.6,623.8L288.9,622.7L290.2,622.7L291.5,625.6L292.8,624.4L294.1,622.9L295.4,626.6L296.7,623.9L298.0,622.1L299.3,624.3L300.0,623.8L300.6,622.6L301.9,623.4L303.2,623.8L304.5,626.1L305.8,626.1L307.1,626.7L308.4,624.6L309.7,621.0L311.0,621.3L312.3,622.9L313.6,623.7L314.9,623.1L316.2,626.5L317.5,623.1L318.8,620.7L320.0,621.8L320.1,621.4L321.4,621.7L322.7,621.1L324.0,622.5L325.3,625.7L326.6,625.4L327.9,625.4L329.2,626.9L330.5,626.8L331.8,625.8L333.1,627.3L334.4,625.8L335.7,624.5L337.0,624.4L338.3,621.0L339.6,620.8L340.9,621.5L341.0,622.7L342.2,622.5L343.5,623.5L344.8,622.5L346.1,623.0L347.0,624.3L347.4,621.7L348.7,618.6L350.0,616.0L351.3,615.7L351.7,615.6L352.6,615.0L353.9,615.5L355.2,615.7L355.4,616.7L356.5,624.6L357.3,628.2L357.8,631.1L359.1,638.0L360.2,643.9L360.4,644.3L361.7,645.1L363.0,646.4L363.0,647.4L364.3,649.0L365.6,649.5L365.8,649.6L366.9,652.6L368.0,655.5L368.2,655.7L369.5,658.0L370.5,659.0L370.8,658.4L372.1,655.6L373.0,653.2L373.4,652.1L374.7,651.9L375.2,651.2L376.0,648.6L377.3,643.3L378.6,640.2L379.0,639.0L379.9,637.6L381.2,634.8L382.5,630.9L382.8,632.1L383.8,632.3L385.1,631.8L386.4,630.6L387.7,626.7L389.0,626.7L390.3,628.4L390.3,628.9L391.6,627.4L392.9,627.5L394.2,625.7L395.5,624.5L396.8,622.7L398.1,620.7L399.4,620.2L399.7,621.5L400.7,622.7L402.0,623.5L403.3,624.6L404.6,625.1L405.9,625.2L407.2,623.0L408.5,621.9L409.0,621.2L409.8,619.2L411.1,621.2L412.4,623.2L413.7,623.2L415.0,619.1L416.0,618.9L416.3,619.7L417.6,619.3L418.9,622.5L420.2,623.5L421.5,622.2L422.3,623.9L422.8,624.1L424.1,625.3L425.4,625.0L426.1,626.2L426.7,625.1L428.0,618.9L429.3,618.1L430.6,618.4L430.8,616.7L431.9,615.0L433.2,612.5L434.5,608.0L434.6,607.6L435.8,608.8L437.1,610.9L438.4,615.6L438.4,615.8L439.7,620.2L441.0,624.5L442.1,628.5L442.3,629.2L443.6,633.4L444.9,639.9L445.9,643.7L446.2,643.3L447.5,646.8L448.8,651.3L449.0,652.3L450.1,654.0L451.4,656.6L451.6,656.5L452.7,653.5L454.0,650.2L454.0,650.1L455.3,648.5L456.3,648.4L456.6,647.5L457.9,645.7L459.2,642.2L460.5,640.2L461.8,635.9L461.9,634.8L463.1,632.3L464.4,629.4L465.7,629.4L467.0,629.1L468.3,627.7L469.5,625.6L469.6,624.2L470.9,624.9L472.2,624.4L473.5,627.6L474.8,628.9L476.1,624.7L477.4,625.1L478.7,625.6L480.0,624.4L480.8,623.4L481.3,622.8L482.6,622.6L483.9,625.5L485.2,626.6L486.5,625.1L487.8,624.2L489.1,625.8L490.0,626.5L490.4,625.9L491.7,626.1L493.0,625.6L494.3,624.7L495.6,624.4L496.9,623.2L498.2,623.6L499.5,622.6L500.8,621.5L502.1,621.8L503.4,620.7L504.7,623.8L506.0,624.1L507.3,624.0L508.6,623.6L509.9,620.2L510.0,621.2L511.2,622.8L512.5,623.1L513.8,622.0L515.1,623.4L516.4,624.0L517.7,622.9L519.0,622.9L520.3,624.6L521.6,624.7L522.9,621.2L524.2,620.9L525.5,622.6L526.8,625.1L528.1,625.1L529.4,624.4L530.7,623.3L532.0,625.4L533.3,624.4L534.6,622.5L535.9,623.6L537.2,625.3L538.5,622.7L539.8,621.7L541.1,621.7L542.4,622.7L543.7,621.2L545.0,622.7L546.3,623.7L546.5,623.8L547.6,623.6L548.9,623.7L550.2,621.1L550.9,620.9L551.5,619.8L552.8,611.3L553.2,608.5L554.1,604.6L554.3,604.3L555.4,608.3L556.5,608.8L556.7,610.6L558.0,619.1L558.7,624.4L559.3,634.8L560.6,656.5L560.9,660.9L561.9,670.6L562.0,671.4L563.0,665.0L563.2,663.3L564.3,650.7L564.5,648.6L565.8,642.7L567.1,637.6L567.6,633.3L568.4,631.6L569.7,628.4L570.9,623.9L571.0,623.4L572.3,626.1L573.6,626.9L574.9,628.3L576.2,626.2L577.5,624.0L578.8,625.9L579.8,624.7L580.1,624.9L581.4,626.4L582.7,627.3L584.0,626.5L585.3,624.8L586.6,624.4L587.9,625.0L589.2,623.3L590.5,623.3L591.8,622.7L593.1,622.2L594.4,626.7L595.7,626.3L597.0,624.5L598.3,625.2L599.6,628.3L600.9,623.1L602.2,623.7L603.5,625.0L604.8,624.3L606.1,623.8L607.4,623.9L608.7,625.6L610.0,626.2L611.3,627.0L612.6,627.6L613.0,627.6L613.9,624.8L615.2,625.0L616.5,626.4L617.8,627.1L619.1,628.1L620.4,628.7L621.7,628.6L621.9,628.5L623.0,626.2L624.3,627.4L625.6,628.9L626.3,630.3L626.9,630.4L628.2,628.9L629.5,630.0L630.8,629.2L632.1,628.1L633.0,628.7L633.4,628.1L634.7,627.7L636.0,629.6L636.0,628.8" fill="none" stroke="#FF0000" stroke-width="1.8" stroke-linejoin="round"/>
<path d="M129.0,643.5L130.3,642.7L131.6,643.8L132.0,644.2L132.9,645.0L134.2,647.3L135.0,649.1L135.5,650.6L136.8,652.1L138.0,655.1L138.1,655.4L139.4,660.1L140.5,663.9L140.7,663.0L142.0,658.7L142.5,656.1L143.3,652.2L144.6,646.4L144.6,645.1L145.9,636.5L147.0,629.0L147.2,629.2L148.5,625.4L149.6,621.1L149.8,620.0L151.1,618.8L152.4,618.4L152.9,618.5L153.7,622.9L155.0,625.8L156.3,624.6L157.0,624.2L157.6,629.5L158.9,636.2L160.2,643.4L161.0,648.4L161.5,650.4L162.8,658.7L164.1,665.2L164.6,668.9L165.4,669.9L166.7,671.1L168.0,673.7L168.0,673.6L169.3,674.8L170.6,676.0L171.0,676.3L171.9,677.3L173.2,679.2L174.5,681.5L175.0,682.4L175.8,682.9L177.1,684.5L178.0,685.3L178.4,685.5L179.7,687.2L181.0,688.3L181.0,687.8L182.3,687.4L183.6,687.2L184.9,685.4L185.0,685.7L186.2,679.2L187.5,674.0L188.0,671.9L188.8,668.4L190.1,661.3L191.0,656.4L191.4,656.6L192.7,653.9L194.0,652.2L195.3,649.7L196.6,648.0L197.8,647.6L197.9,645.9L199.2,644.1L200.5,640.8L201.8,639.3L202.0,638.4L203.1,636.2L204.4,635.7L205.7,635.3L206.0,633.3L207.0,630.4L208.3,629.0L209.6,629.3L210.9,628.6L211.0,626.5L212.2,618.0L213.0,612.0L213.5,609.2L214.4,601.3L214.8,606.9L216.1,620.9L216.5,627.1L217.4,638.9L218.6,656.6L218.7,656.0L220.0,643.8L221.0,634.6L221.3,636.5L222.6,648.5L223.9,659.1L224.4,663.7L225.2,655.9L226.5,643.4L226.5,644.5L227.8,635.7L228.5,630.0L229.1,630.0L230.4,629.1L231.7,631.1L233.0,630.0L234.3,629.2L235.6,630.3L236.0,630.7L236.9,630.3L238.2,630.6L239.5,631.7L240.8,630.7L242.1,631.3L243.4,632.9L244.7,633.1L246.0,631.9L247.3,632.5L248.0,631.7L248.6,632.6L249.9,633.6L251.2,631.5L252.5,629.2L253.8,628.7L255.1,629.6L256.4,631.2L257.7,631.4L259.0,629.3L260.0,629.6L260.3,629.9L261.6,628.9L262.9,629.3L264.2,628.7L265.5,627.6L266.8,626.6L268.1,627.4L269.4,629.7L270.7,627.5L272.0,626.0L273.3,626.7L274.6,628.1L275.9,626.3L277.2,623.7L278.5,624.4L279.8,622.7L280.0,623.1L281.1,625.6L282.4,626.4L283.7,626.7L285.0,628.3L286.3,627.7L287.6,626.6L288.9,624.9L290.2,624.0L291.5,624.0L292.8,623.7L294.1,624.1L295.4,622.5L296.7,620.0L298.0,623.6L299.3,623.2L300.0,623.6L300.6,623.0L301.9,623.5L303.2,625.0L304.5,623.7L305.8,620.7L307.1,621.1L308.4,622.5L309.7,621.9L311.0,621.4L312.3,622.9L313.6,625.5L314.9,624.5L316.2,624.7L317.5,625.7L318.8,625.4L320.0,624.9L320.1,625.2L321.4,624.2L322.7,620.1L324.0,622.4L325.3,625.7L326.6,625.8L327.9,622.8L329.2,621.0L330.5,620.7L331.8,621.5L333.1,622.3L334.4,624.5L335.7,625.5L337.0,624.3L338.3,621.8L339.6,622.9L340.9,622.2L341.0,623.6L342.2,620.6L343.5,619.8L344.8,619.7L346.1,619.9L347.0,617.3L347.4,616.2L348.7,611.4L350.0,607.3L351.3,602.3L351.7,601.7L352.6,604.0L353.9,603.6L355.2,603.9L355.4,605.7L356.5,621.4L357.3,633.3L357.8,637.2L359.1,650.9L360.2,661.6L360.4,661.5L361.7,665.4L363.0,670.4L363.0,670.3L364.3,673.0L365.6,675.9L365.8,675.9L366.9,680.9L368.0,685.8L368.2,686.3L369.5,689.8L370.5,692.3L370.8,691.5L372.1,687.4L373.0,685.6L373.4,683.5L374.7,677.9L375.2,675.6L376.0,670.8L377.3,663.4L378.6,656.2L379.0,655.3L379.9,651.4L381.2,643.4L382.5,636.9L382.8,636.3L383.8,635.3L385.1,633.9L386.4,631.8L387.7,630.6L389.0,630.5L390.3,626.1L390.3,626.6L391.6,625.5L392.9,626.0L394.2,622.7L395.5,621.1L396.8,621.0L398.1,620.0L399.4,618.5L399.7,616.9L400.7,619.4L402.0,620.1L403.3,618.6L404.6,619.8L405.9,622.2L407.2,622.9L408.5,620.5L409.0,619.1L409.8,620.8L411.1,623.1L412.4,622.8L413.7,621.5L415.0,618.6L416.0,618.9L416.3,618.5L417.6,619.6L418.9,618.4L420.2,618.0L421.5,619.6L422.3,618.9L422.8,619.1L424.1,618.3L425.4,621.4L426.1,622.5L426.7,621.4L428.0,618.9L429.3,610.6L430.6,606.2L430.8,605.5L431.9,605.7L433.2,599.9L434.5,593.3L434.6,593.8L435.8,596.9L437.1,601.0L438.4,605.7L438.4,605.8L439.7,613.6L441.0,621.0L442.1,629.3L442.3,632.8L443.6,643.9L444.9,653.1L445.9,661.4L446.2,662.7L447.5,669.8L448.8,676.5L449.0,677.0L450.1,682.2L451.4,687.9L451.6,688.1L452.7,683.7L454.0,678.4L454.0,678.7L455.3,672.1L456.3,667.6L456.6,665.8L457.9,660.9L459.2,656.6L460.5,649.5L461.8,643.8L461.9,643.5L463.1,641.6L464.4,640.4L465.7,637.7L467.0,634.4L468.3,632.0L469.5,627.6L469.6,627.6L470.9,626.1L472.2,626.7L473.5,627.6L474.8,631.6L476.1,626.8L477.4,626.0L478.7,625.7L480.0,626.2L480.8,627.7L481.3,627.1L482.6,625.4L483.9,625.0L485.2,624.3L486.5,623.5L487.8,623.7L489.1,621.2L490.0,621.3L490.4,622.2L491.7,624.3L493.0,624.1L494.3,625.5L495.6,625.9L496.9,623.3L498.2,621.6L499.5,621.0L500.8,621.9L502.1,623.7L503.4,622.8L504.7,622.7L506.0,622.0L507.3,623.9L508.6,622.0L509.9,620.4L510.0,621.0L511.2,619.8L512.5,618.8L513.8,620.7L515.1,622.2L516.4,624.3L517.7,620.2L519.0,620.3L520.3,622.7L521.6,622.5L522.9,618.9L524.2,620.3L525.5,619.5L526.8,623.7L528.1,623.6L529.4,620.3L530.7,620.5L532.0,621.1L533.3,623.3L534.6,620.1L535.9,620.1L537.2,621.3L538.5,622.7L539.8,623.4L541.1,621.3L542.4,621.2L543.7,621.2L545.0,621.8L546.3,620.1L546.5,620.9L547.6,619.2L548.9,616.3L550.2,615.4L550.9,617.2L551.5,610.0L552.8,595.7L553.2,591.2L554.1,582.4L554.3,581.0L555.4,586.6L556.5,592.1L556.7,594.4L558.0,614.2L558.7,626.0L559.3,643.1L560.6,683.3L560.9,692.9L561.9,713.6L562.0,716.0L563.0,703.3L563.2,699.8L564.3,675.6L564.5,673.6L565.8,658.8L567.1,643.8L567.6,638.0L568.4,634.9L569.7,631.5L570.9,630.4L571.0,628.4L572.3,630.1L573.6,628.8L574.9,628.5L576.2,627.6L577.5,628.1L578.8,625.9L579.8,625.1L580.1,624.0L581.4,623.6L582.7,625.3L584.0,623.1L585.3,624.0L586.6,625.2L587.9,626.4L589.2,625.6L590.5,626.2L591.8,622.5L593.1,620.9L594.4,621.5L595.7,623.1L597.0,623.4L598.3,624.6L599.6,625.5L600.9,625.7L602.2,627.0L603.5,626.6L604.8,627.2L606.1,625.6L607.4,623.3L608.7,624.0L610.0,625.9L611.3,623.9L612.6,624.3L613.0,624.6L613.9,626.3L615.2,629.3L616.5,628.2L617.8,627.4L619.1,629.7L620.4,631.6L621.7,632.8L621.9,633.9L623.0,631.8L624.3,633.1L625.6,636.0L626.3,637.2L626.9,636.1L628.2,636.1L629.5,636.5L630.8,637.2L632.1,636.8L633.0,635.1L633.4,634.9L634.7,633.1L636.0,629.8L636.0,630.2" fill="none" stroke="#E00000" stroke-width="1.8" stroke-linejoin="round"/>
<path d="M129.0,644.7L130.3,647.0L131.6,648.7L132.0,649.0L132.9,648.0L134.2,648.1L135.0,650.4L135.5,651.7L136.8,655.2L138.0,658.6L138.1,659.6L139.4,663.9L140.5,668.2L140.7,668.3L142.0,664.3L142.5,662.0L143.3,655.7L144.6,647.7L144.6,647.6L145.9,639.1L147.0,633.3L147.2,632.9L148.5,622.4L149.6,618.0L149.8,617.3L151.1,617.2L152.4,616.4L152.9,615.9L153.7,617.3L155.0,620.1L156.3,623.0L157.0,626.4L157.6,629.2L158.9,639.3L160.2,647.0L161.0,652.1L161.5,656.1L162.8,662.5L164.1,668.2L164.6,672.0L165.4,673.5L166.7,675.9L168.0,679.1L168.0,678.7L169.3,680.5L170.6,681.8L171.0,682.8L171.9,685.2L173.2,687.1L174.5,688.9L175.0,690.0L175.8,690.8L177.1,693.6L178.0,694.7L178.4,695.5L179.7,695.9L181.0,698.3L181.0,698.6L182.3,697.1L183.6,695.5L184.9,693.5L185.0,693.1L186.2,686.2L187.5,680.7L188.0,678.9L188.8,674.8L190.1,667.1L191.0,662.2L191.4,660.7L192.7,658.0L194.0,655.9L195.3,653.5L196.6,650.6L197.8,650.6L197.9,649.8L199.2,649.6L200.5,645.7L201.8,641.2L202.0,640.9L203.1,638.2L204.4,635.4L205.7,632.4L206.0,632.8L207.0,632.5L208.3,630.6L209.6,628.0L210.9,626.9L211.0,627.9L212.2,616.6L213.0,609.7L213.5,605.6L214.4,595.3L214.8,600.7L216.1,618.2L216.5,623.2L217.4,638.0L218.6,660.1L218.7,659.1L220.0,648.3L221.0,638.4L221.3,642.7L222.6,654.0L223.9,664.4L224.4,669.0L225.2,660.2L226.5,646.5L226.5,647.2L227.8,636.5L228.5,630.6L229.1,630.3L230.4,630.5L231.7,629.5L233.0,629.1L234.3,629.0L235.6,628.5L236.0,628.5L236.9,629.0L238.2,633.3L239.5,633.4L240.8,632.1L242.1,633.2L243.4,633.8L244.7,633.8L246.0,632.5L247.3,629.6L248.0,630.7L248.6,631.9L249.9,634.3L251.2,634.7L252.5,634.4L253.8,631.0L255.1,631.2L256.4,632.9L257.7,632.1L259.0,631.2L260.0,632.0L260.3,631.2L261.6,632.8L262.9,633.6L264.2,631.8L265.5,630.6L266.8,629.6L268.1,627.5L269.4,630.7L270.7,628.1L272.0,625.3L273.3,628.3L274.6,629.0L275.9,627.3L277.2,628.9L278.5,629.8L279.8,625.6L280.0,626.2L281.1,624.2L282.4,625.7L283.7,626.9L285.0,624.7L286.3,625.3L287.6,626.6L288.9,627.2L290.2,624.9L291.5,623.5L292.8,623.6L294.1,624.3L295.4,625.6L296.7,625.3L298.0,625.7L299.3,624.0L300.0,624.2L300.6,622.8L301.9,624.2L303.2,624.5L304.5,623.3L305.8,621.7L307.1,621.2L308.4,621.5L309.7,625.4L311.0,621.3L312.3,619.8L313.6,620.1L314.9,622.3L316.2,624.5L317.5,623.7L318.8,621.4L320.0,620.5L320.1,621.5L321.4,622.1L322.7,625.3L324.0,624.1L325.3,623.3L326.6,619.8L327.9,619.3L329.2,621.1L330.5,624.4L331.8,624.2L333.1,625.4L334.4,624.4L335.7,619.9L337.0,621.2L338.3,622.0L339.6,624.7L340.9,625.2L341.0,626.1L342.2,618.7L343.5,618.9L344.8,618.2L346.1,617.5L347.0,615.0L347.4,612.4L348.7,605.2L350.0,598.9L351.3,593.8L351.7,592.2L352.6,594.2L353.9,597.2L355.2,601.0L355.4,601.3L356.5,619.8L357.3,634.0L357.8,640.4L359.1,657.8L360.2,673.0L360.4,674.3L361.7,678.2L363.0,684.3L363.0,684.1L364.3,688.1L365.6,691.5L365.8,691.1L366.9,697.6L368.0,704.3L368.2,705.1L369.5,711.3L370.5,716.8L370.8,715.3L372.1,708.9L373.0,704.3L373.4,702.3L374.7,695.3L375.2,693.4L376.0,687.4L377.3,677.9L378.6,668.2L379.0,665.4L379.9,659.1L381.2,649.2L382.5,640.4L382.8,638.9L383.8,636.1L385.1,636.4L386.4,637.3L387.7,634.5L389.0,633.0L390.3,633.1L390.3,632.3L391.6,629.7L392.9,625.8L394.2,627.1L395.5,625.2L396.8,621.3L398.1,621.0L399.4,618.8L399.7,620.0L400.7,620.6L402.0,619.3L403.3,619.0L404.6,619.1L405.9,621.2L407.2,621.5L408.5,617.9L409.0,618.3L409.8,617.5L411.1,616.6L412.4,615.4L413.7,616.1L415.0,614.6L416.0,616.7L416.3,616.5L417.6,618.2L418.9,617.0L420.2,617.9L421.5,619.1L422.3,621.6L422.8,621.8L424.1,622.2L425.4,623.0L426.1,622.2L426.7,618.2L428.0,613.5L429.3,609.0L430.6,601.9L430.8,601.5L431.9,595.9L433.2,589.7L434.5,585.1L434.6,584.6L435.8,588.9L437.1,593.1L438.4,598.2L438.4,597.6L439.7,609.9L441.0,620.1L442.1,630.7L442.3,633.1L443.6,647.8L444.9,660.6L445.9,671.3L446.2,674.3L447.5,684.6L448.8,693.4L449.0,695.0L450.1,700.9L451.4,707.6L451.6,709.6L452.7,703.1L454.0,694.3L454.0,693.7L455.3,686.1L456.3,681.1L456.6,678.7L457.9,673.0L459.2,665.8L460.5,657.7L461.8,649.5L461.9,650.1L463.1,645.5L464.4,643.0L465.7,638.6L467.0,635.0L468.3,632.6L469.5,629.2L469.6,627.6L470.9,628.6L472.2,626.9L473.5,628.4L474.8,628.9L476.1,626.5L477.4,626.4L478.7,629.0L480.0,629.4L480.8,629.2L481.3,629.3L482.6,627.2L483.9,625.5L485.2,626.4L486.5,626.7L487.8,624.3L489.1,621.8L490.0,620.5L490.4,621.1L491.7,621.8L493.0,621.2L494.3,618.7L495.6,621.9L496.9,622.1L498.2,621.5L499.5,620.9L500.8,618.7L502.1,619.6L503.4,619.3L504.7,619.8L506.0,621.4L507.3,622.0L508.6,620.2L509.9,617.6L510.0,617.3L511.2,620.7L512.5,620.6L513.8,621.5L515.1,622.4L516.4,621.6L517.7,619.2L519.0,618.9L520.3,621.7L521.6,621.1L522.9,618.4L524.2,618.9L525.5,618.9L526.8,622.3L528.1,621.4L529.4,622.5L530.7,619.8L532.0,617.6L533.3,619.7L534.6,618.6L535.9,619.3L537.2,619.3L538.5,621.4L539.8,623.2L541.1,622.9L542.4,625.2L543.7,621.1L545.0,619.3L546.3,621.1L546.5,621.1L547.6,619.2L548.9,617.5L550.2,613.1L550.9,610.4L551.5,601.1L552.8,582.8L553.2,576.8L554.1,568.1L554.3,566.2L555.4,574.6L556.5,583.1L556.7,586.4L558.0,613.0L558.7,627.6L559.3,650.5L560.6,702.9L560.9,714.8L561.9,744.0L562.0,747.0L563.0,730.9L563.2,725.0L564.3,693.3L564.5,690.2L565.8,670.6L567.1,651.1L567.6,643.5L568.4,640.3L569.7,634.4L570.9,626.0L571.0,626.1L572.3,627.2L573.6,630.0L574.9,626.5L576.2,624.6L577.5,626.6L578.8,622.4L579.8,621.4L580.1,620.1L581.4,621.5L582.7,622.9L584.0,626.2L585.3,624.6L586.6,623.0L587.9,623.5L589.2,623.3L590.5,621.9L591.8,623.1L593.1,627.5L594.4,625.9L595.7,624.9L597.0,623.2L598.3,625.2L599.6,624.5L600.9,622.9L602.2,620.5L603.5,624.2L604.8,624.8L606.1,624.0L607.4,624.1L608.7,622.1L610.0,623.3L611.3,624.4L612.6,626.5L613.0,627.4L613.9,626.7L615.2,626.9L616.5,627.6L617.8,630.6L619.1,629.3L620.4,630.2L621.7,631.7L621.9,631.4L623.0,634.2L624.3,636.6L625.6,638.2L626.3,640.7L626.9,640.0L628.2,639.9L629.5,639.8L630.8,641.2L632.1,638.5L633.0,637.7L633.4,636.8L634.7,632.4L636.0,630.1L636.0,630.0" fill="none" stroke="#A00000" stroke-width="1.8" stroke-linejoin="round"/>
<path d="M129.7,547.2L130.9,547.4L132.1,546.0L133.3,545.7L134.5,545.2L135.7,544.4L136.9,543.1L138.1,542.2L139.3,540.7L140.5,540.2L141.7,540.0L142.9,541.0L144.1,541.1L145.3,541.8L146.5,541.8L147.7,541.5L148.9,542.3L150.1,542.3L151.3,541.8L152.5,539.6L153.7,537.7L154.9,535.3L156.1,532.8L157.3,529.3L158.5,525.9L159.7,522.6L160.9,519.1L162.1,514.8L163.3,511.0L164.5,508.2L165.7,504.2L166.9,500.6L168.1,499.2L169.3,496.7L170.5,494.1L171.7,492.9L172.9,491.5L174.1,490.8L175.3,489.5L176.5,487.7L177.7,487.2L178.9,487.5L180.1,488.5L181.3,489.4L182.5,492.6L183.7,495.9L184.9,498.2L186.1,502.1L187.3,505.3L188.5,507.7L189.7,511.7L190.9,514.8L192.1,517.7L193.3,521.2L194.5,524.6L195.7,527.0L196.9,529.4L198.1,532.3L199.3,535.0L200.5,537.6L201.7,539.8L202.9,541.2L204.1,544.4L205.3,546.1L206.5,547.5L207.7,549.5L208.9,550.4L210.1,551.9L211.3,552.2L212.5,553.9L213.7,554.0L214.9,555.4L216.1,555.3L217.3,553.8L218.5,552.8L219.7,553.1L220.9,552.5L222.1,550.8L223.3,550.9L224.5,552.2L225.7,553.5L226.9,554.8L228.1,555.5L229.3,556.9L230.5,557.0L231.7,557.9L232.9,557.9L234.1,558.5L235.3,558.8L236.5,558.6L237.7,559.3L238.9,558.8L240.1,559.1L241.3,560.1L242.5,559.6L243.7,560.1L244.9,560.1L246.1,559.9L247.3,560.5L248.5,561.0L249.7,560.5L250.9,560.7L252.1,560.9L253.3,561.2L254.5,562.2L255.7,562.4L256.9,563.0L258.1,563.0L259.3,563.6L260.5,562.7L261.7,562.6L262.9,562.7L264.1,562.9L265.3,563.6L266.5,562.7L267.7,562.9L268.9,562.5L270.1,562.4L271.3,563.1L272.5,563.1L273.7,563.0L274.9,563.5L276.1,563.4L277.3,563.5L278.5,563.1L279.7,562.7L280.9,562.6L282.1,563.3L283.3,562.6L284.5,562.4L285.7,563.2L286.9,562.5L288.1,563.1L289.3,562.6L290.5,562.9L291.7,562.4L292.9,562.9L294.1,562.8L295.3,562.7L296.5,562.6L297.7,563.1L298.9,563.2L300.1,562.6L301.3,562.2L302.5,562.3L303.7,562.6L304.9,561.9L306.1,562.1L307.3,561.2L308.5,561.8L309.7,560.9L310.9,561.0L312.1,561.5L313.3,561.2L314.5,561.4L315.7,561.0L316.9,561.4L318.1,561.0L319.3,561.2L320.5,561.1L321.7,561.6L322.9,561.4L324.1,561.2L325.3,561.5L326.5,561.2L327.7,561.3L328.9,561.1L330.1,561.1L331.3,560.7L332.5,561.5L333.7,560.7L334.9,560.5L336.1,559.8L337.3,558.6L338.5,558.2L339.7,558.7L340.9,557.9L342.1,557.4L343.3,556.6L344.5,555.0L345.7,555.1L346.9,553.9L348.1,553.3L349.3,551.3L350.5,549.1L351.7,547.4L352.9,545.4L354.1,542.0L355.3,538.9L356.5,535.5L357.7,530.5L358.9,525.6L360.1,522.0L361.3,517.8L362.5,514.2L363.7,512.7L364.9,512.3L366.1,511.6L367.3,511.9L368.5,513.5L369.7,513.8L370.9,514.6L372.1,515.0L373.3,516.2L374.5,515.9L375.7,518.3L376.9,520.3L378.1,521.8L379.3,524.3L380.5,528.1L381.7,531.0L382.9,533.3L384.1,535.4L385.3,537.5L386.5,538.3L387.7,539.7L388.9,541.2L390.1,541.6L391.3,543.1L392.5,545.1L393.7,545.7L394.9,547.3L396.1,549.1L397.3,550.0L398.5,550.6L399.7,551.1L400.9,552.9L402.1,553.2L403.3,554.6L404.5,554.8L405.7,555.5L406.9,557.0L408.1,557.2L409.3,557.5L410.5,557.9L411.7,558.3L412.9,558.7L414.1,559.2L415.3,558.9L416.5,559.7L417.7,559.5L418.9,559.9L420.1,559.2L421.3,559.7L422.5,559.1L423.7,559.7L424.9,559.7L426.1,559.6L427.3,559.5L428.5,559.8L429.7,558.4L430.9,557.4L432.1,557.0L433.3,556.0L434.5,556.4L435.7,555.6L436.9,554.2L438.1,553.5L439.3,551.3L440.5,550.4L441.7,548.2L442.9,545.2L444.1,542.9L445.3,539.3L446.5,537.6L447.7,535.2L448.9,532.4L450.1,530.1L451.3,529.8L452.5,528.0L453.7,527.7L454.9,528.8L456.1,529.4L457.3,531.3L458.5,533.5L459.7,536.1L460.9,538.3L462.1,540.7L463.3,543.7L464.5,547.1L465.7,549.4L466.9,551.0L468.1,552.5L469.3,554.9L470.5,556.1L471.7,556.9L472.9,557.7L474.1,558.0L475.3,558.3L476.5,559.0L477.7,559.0L478.9,559.5L480.1,560.2L481.3,559.9L482.5,559.5L483.7,560.6L484.9,559.9L486.1,559.9L487.3,560.7L488.5,561.1L489.7,560.5L490.9,561.2L492.1,561.6L493.3,561.5L494.5,562.4L495.7,562.2L496.9,563.0L498.1,562.8L499.3,562.8L500.5,562.4L501.7,563.0L502.9,562.1L504.1,562.5L505.3,562.2L506.5,562.1L507.7,562.0L508.9,562.6L510.1,562.1L511.3,562.1L512.5,562.5L513.7,562.7L514.9,562.1L516.1,562.7L517.3,562.6L518.5,563.0L519.7,562.9L520.9,563.1L522.1,562.3L523.3,563.0L524.5,562.3L525.7,562.2L526.9,562.4L528.1,561.9L529.3,562.7L530.5,561.8L531.7,562.2L532.9,561.3L534.1,561.6L535.3,561.2L536.5,561.8L537.7,560.8L538.9,560.7L540.1,560.4L541.3,560.1L542.5,560.7L543.7,560.2L544.9,560.1L546.1,560.1L547.3,560.1L548.5,560.6L549.7,559.9L550.9,559.7L552.1,559.9L553.3,560.1L554.5,559.7L555.7,559.5L556.9,559.7L558.1,560.4L559.3,560.3L560.5,559.7L561.7,558.9L562.9,557.0L564.1,555.9L565.3,554.5L566.5,552.7L567.7,551.9L568.9,550.2L570.1,550.3L571.3,550.2L572.5,550.7L573.7,552.7L574.9,554.7L576.1,556.9L577.3,557.9L578.5,558.4L579.7,558.7L580.9,560.0L582.1,560.2L583.3,559.9L584.5,560.1L585.7,560.9L586.9,560.0L588.1,561.1L589.3,560.5L590.5,560.7L591.7,561.2L592.9,561.7L594.1,561.6L595.3,562.1L596.5,562.3L597.7,563.0L598.9,562.9L600.1,562.7L601.3,563.4L602.5,563.6L603.7,563.5L604.9,564.2L606.1,563.4L607.3,564.6L608.5,564.5L609.7,563.6L610.9,564.4L612.1,563.8L613.3,564.8L614.5,564.2L615.7,564.6L616.9,564.1L618.1,564.2L619.3,563.1L620.5,563.7L621.7,562.7L622.9,562.2L624.1,562.2L625.3,561.9L626.5,561.0L627.7,560.8" fill="none" stroke="#000" stroke-width="1.7" stroke-linejoin="round"/>
<path d="M128.7,475 V790.7 H636.4" fill="none" stroke="#000" stroke-width="1.6"/>
<path d="M213.8,790.7 v7 M382.1,790.7 v7 M550.4,790.7 v7 M129.7,790.7 v3.5 M298.0,790.7 v3.5 M466.2,790.7 v3.5 M634.5,790.7 v3.5" stroke="#000" stroke-width="1.6"/>
<text x="213.8" y="830.0" font-size="35" text-anchor="middle" >2</text>
<text x="382.1" y="830.0" font-size="35" text-anchor="middle" >3</text>
<text x="550.4" y="830.0" font-size="35" text-anchor="middle" >4</text>
<text x="323.0" y="879.5" font-size="42" text-anchor="start" >q (Å<tspan font-size="29" dx="1" dy="-17">-1</tspan><tspan dx="3" dy="17">)</tspan></text>
<text transform="translate(94.5,777) rotate(-90)" x="0" y="0" font-size="41.5" text-anchor="start">Counts, ΔS (a.u.)</text>
<text x="2.5" y="516.5" font-size="48" text-anchor="start" >b</text>
<text x="222.0" y="495.8" font-size="42" text-anchor="start" >5.5 ML</text>
<rect x="264.80" y="761.4" width="15.51" height="12.6" fill="#8A00D4"/>
<rect x="280.01" y="761.4" width="15.51" height="12.6" fill="#1E8FFF"/>
<rect x="295.23" y="761.4" width="15.51" height="12.6" fill="#40DD20"/>
<rect x="310.44" y="761.4" width="15.51" height="12.6" fill="#FFF500"/>
<rect x="325.66" y="761.4" width="15.51" height="12.6" fill="#FF3A00"/>
<rect x="340.87" y="761.4" width="15.51" height="12.6" fill="#FF0000"/>
<rect x="356.09" y="761.4" width="15.51" height="12.6" fill="#8E0000"/>
<text x="135.5" y="775.5" font-size="33" text-anchor="start" >3.3<tspan font-size="27" dx="1.2">×</tspan><tspan dx="1.6">10</tspan><tspan font-size="24" dy="-13.5">12</tspan></text>
<text x="378.5" y="774.6" font-size="33" text-anchor="start" >4.4<tspan font-size="27" dx="1.2">×</tspan><tspan dx="1.6">10</tspan><tspan font-size="24" dy="-13.5">14</tspan><tspan dx="2" dy="13.5"> cm</tspan><tspan font-size="24" dx="1" dy="-13.5">-2</tspan></text>
<text x="573.5" y="613.4" font-size="32.5" text-anchor="start" >ΔS=0</text>
<path d="M803.3,25.4 V347.7 M803.3,340.4 H1310.6" fill="none" stroke="#000" stroke-width="1.6"/>
<path d="M804.0999999999999,341.2 L804.0999999999999,338.2 L803.9,338.2 L809.8,325.5 L815.7,318.6 L823.5,313.7 L831.4,310.8 L839.2,306.9 L854.9,300.0 L868.6,290.2 L888.2,276.5 L909.8,263.7 L927.5,256.9 L956.9,245.1 L986.3,233.3 L1015.7,221.6 L1035.3,214.7 L1060.0,206.9 L1098.8,189.8 L1152.4,165.4 L1196.3,141.0 L1245.1,120.2 L1310.6,98.3 L1310.6,341.2 Z" fill="#00E0FF"/>
<path d="M804.0999999999999,341.2 L804.0999999999999,339.6 L803.9,339.6 L821.6,334.9 L833.3,324.5 L856.9,323.9 L902.0,311.8 L956.9,294.1 L1015.7,276.5 L1060.0,263.1 L1123.2,245.9 L1196.3,221.5 L1252.4,204.4 L1310.6,191.0 L1310.6,341.2 Z" fill="#FF0000"/>
<path d="M803.9,339.6 L821.6,334.9 L833.3,324.5 L856.9,323.9 L902.0,311.8 L956.9,294.1 L1015.7,276.5 L1060.0,263.1 L1123.2,245.9 L1196.3,221.5 L1252.4,204.4 L1310.6,191.0" fill="none" stroke="#A00000" stroke-width="0.8" opacity="0.55"/>
<path d="M804.0999999999999,340.9 H1310.6" stroke="#C00000" stroke-width="0.8" opacity="0.6"/>
<path d="M803.3,340.4 h-7.5 M803.3,261.6 h-7.5 M803.3,182.9 h-7.5 M803.3,104.1 h-7.5 M803.3,25.4 h-7.5 M803.3,301.0 h-4 M803.3,222.3 h-4 M803.3,143.5 h-4 M803.3,64.8 h-4 M1033.9,340.4 v7.3 M1264.5,340.4 v7.3 M918.6,340.4 v3.5 M1149.2,340.4 v3.5" stroke="#000" stroke-width="1.6"/>
<text x="789.5" y="350.2" font-size="35" text-anchor="end" >0</text>
<text x="789.5" y="271.4" font-size="35" text-anchor="end" >-5</text>
<text x="789.5" y="192.7" font-size="35" text-anchor="end" >-10</text>
<text x="789.5" y="113.9" font-size="35" text-anchor="end" >-15</text>
<text x="789.5" y="35.2" font-size="35" text-anchor="end" >-20</text>
<text x="803.3" y="380.0" font-size="35" text-anchor="middle" >0</text>
<text x="1033.9" y="380.0" font-size="35" text-anchor="middle" >1</text>
<text x="1264.5" y="380.0" font-size="35" text-anchor="middle" >2</text>
<text x="880.0" y="438.0" font-size="42" text-anchor="start" >Density (10<tspan font-size="28" dy="-17">14</tspan><tspan dy="17"> cm</tspan><tspan font-size="28" dy="-17">-2</tspan><tspan dy="17">)</tspan></text>
<text transform="translate(719.5,256.5) rotate(-90)" font-size="41.5">ΔS (a.u.)</text>
<text x="677.0" y="65.7" font-size="48" text-anchor="start" >b</text>
<text x="912.5" y="81.0" font-size="42" text-anchor="start" >4.5 ML</text>
<text transform="translate(1080,230) rotate(-18.6)" font-size="33" style="fill:#fff;stroke:none">thermal shift</text>
<text transform="translate(1132,301.5) rotate(-17.3)" font-size="32.5" style="fill:#fff;stroke:none">disorder</text>
<path d="M803.3,475.4 V797.6999999999999 M803.3,790.4 H1310.6" fill="none" stroke="#000" stroke-width="1.6"/>
<path d="M804.0999999999999,791.1999999999999 L804.0999999999999,787.0 L803.9,787.0 L806.9,768.4 L819.6,763.5 L839.2,755.7 L856.9,748.8 L878.4,736.1 L907.8,718.4 L937.3,698.8 L966.7,677.3 L986.3,661.6 L1005.9,649.8 L1021.6,640.0 L1053.2,623.6 L1106.4,594.4 L1159.6,565.1 L1212.8,538.5 L1266.0,514.6 L1310.6,494.6 L1310.6,791.1999999999999 Z" fill="#00E0FF"/>
<path d="M804.0999999999999,791.1999999999999 L804.0999999999999,788.0 L803.9,788.0 L820.6,770.4 L839.2,771.8 L856.9,771.8 L884.3,758.6 L909.8,745.9 L937.3,730.2 L966.7,712.5 L988.2,696.9 L1007.8,688.0 L1035.3,677.3 L1060.0,667.5 L1106.4,650.2 L1159.6,628.9 L1212.8,610.3 L1266.0,591.7 L1310.6,577.1 L1310.6,791.1999999999999 Z" fill="#FF0000"/>
<path d="M803.9,788.0 L820.6,770.4 L839.2,771.8 L856.9,771.8 L884.3,758.6 L909.8,745.9 L937.3,730.2 L966.7,712.5 L988.2,696.9 L1007.8,688.0 L1035.3,677.3 L1060.0,667.5 L1106.4,650.2 L1159.6,628.9 L1212.8,610.3 L1266.0,591.7 L1310.6,577.1" fill="none" stroke="#A00000" stroke-width="0.8" opacity="0.55"/>
<path d="M804.0999999999999,790.9 H1310.6" stroke="#C00000" stroke-width="0.8" opacity="0.6"/>
<path d="M803.3,790.4 h-7.5 M803.3,711.6 h-7.5 M803.3,632.9 h-7.5 M803.3,554.1 h-7.5 M803.3,475.4 h-7.5 M803.3,751.0 h-4 M803.3,672.3 h-4 M803.3,593.5 h-4 M803.3,514.8 h-4 M930.1,790.4 v7.3 M1056.9,790.4 v7.3 M1183.8,790.4 v7.3 M1310.6,790.4 v7.3 M866.7,790.4 v3.5 M993.5,790.4 v3.5 M1120.4,790.4 v3.5 M1247.2,790.4 v3.5" stroke="#000" stroke-width="1.6"/>
<text x="789.5" y="800.2" font-size="35" text-anchor="end" >0</text>
<text x="789.5" y="721.4" font-size="35" text-anchor="end" >-5</text>
<text x="789.5" y="642.7" font-size="35" text-anchor="end" >-10</text>
<text x="789.5" y="563.9" font-size="35" text-anchor="end" >-15</text>
<text x="789.5" y="485.2" font-size="35" text-anchor="end" >-20</text>
<text x="803.3" y="830.0" font-size="35" text-anchor="middle" >0</text>
<text x="930.1" y="830.0" font-size="35" text-anchor="middle" >1</text>
<text x="1056.9" y="830.0" font-size="35" text-anchor="middle" >2</text>
<text x="1183.8" y="830.0" font-size="35" text-anchor="middle" >3</text>
<text x="1310.6" y="830.0" font-size="35" text-anchor="middle" >4</text>
<text x="880.0" y="888.0" font-size="42" text-anchor="start" >Density (10<tspan font-size="28" dy="-17">14</tspan><tspan dy="17"> cm</tspan><tspan font-size="28" dy="-17">-2</tspan><tspan dy="17">)</tspan></text>
<text transform="translate(719.5,706.5) rotate(-90)" font-size="41.5">ΔS (a.u.)</text>
<text x="677.0" y="515.7" font-size="48" text-anchor="start" >d</text>
<text x="912.5" y="531.0" font-size="42" text-anchor="start" >5.5 ML</text>
<text transform="translate(1101.5,633) rotate(-21.3)" font-size="33" style="fill:#fff;stroke:none">thermal shift</text>
<text transform="translate(1122,717.5) rotate(-18.3)" font-size="32.5" style="fill:#fff;stroke:none">disorder</text>
</svg></body></html>
